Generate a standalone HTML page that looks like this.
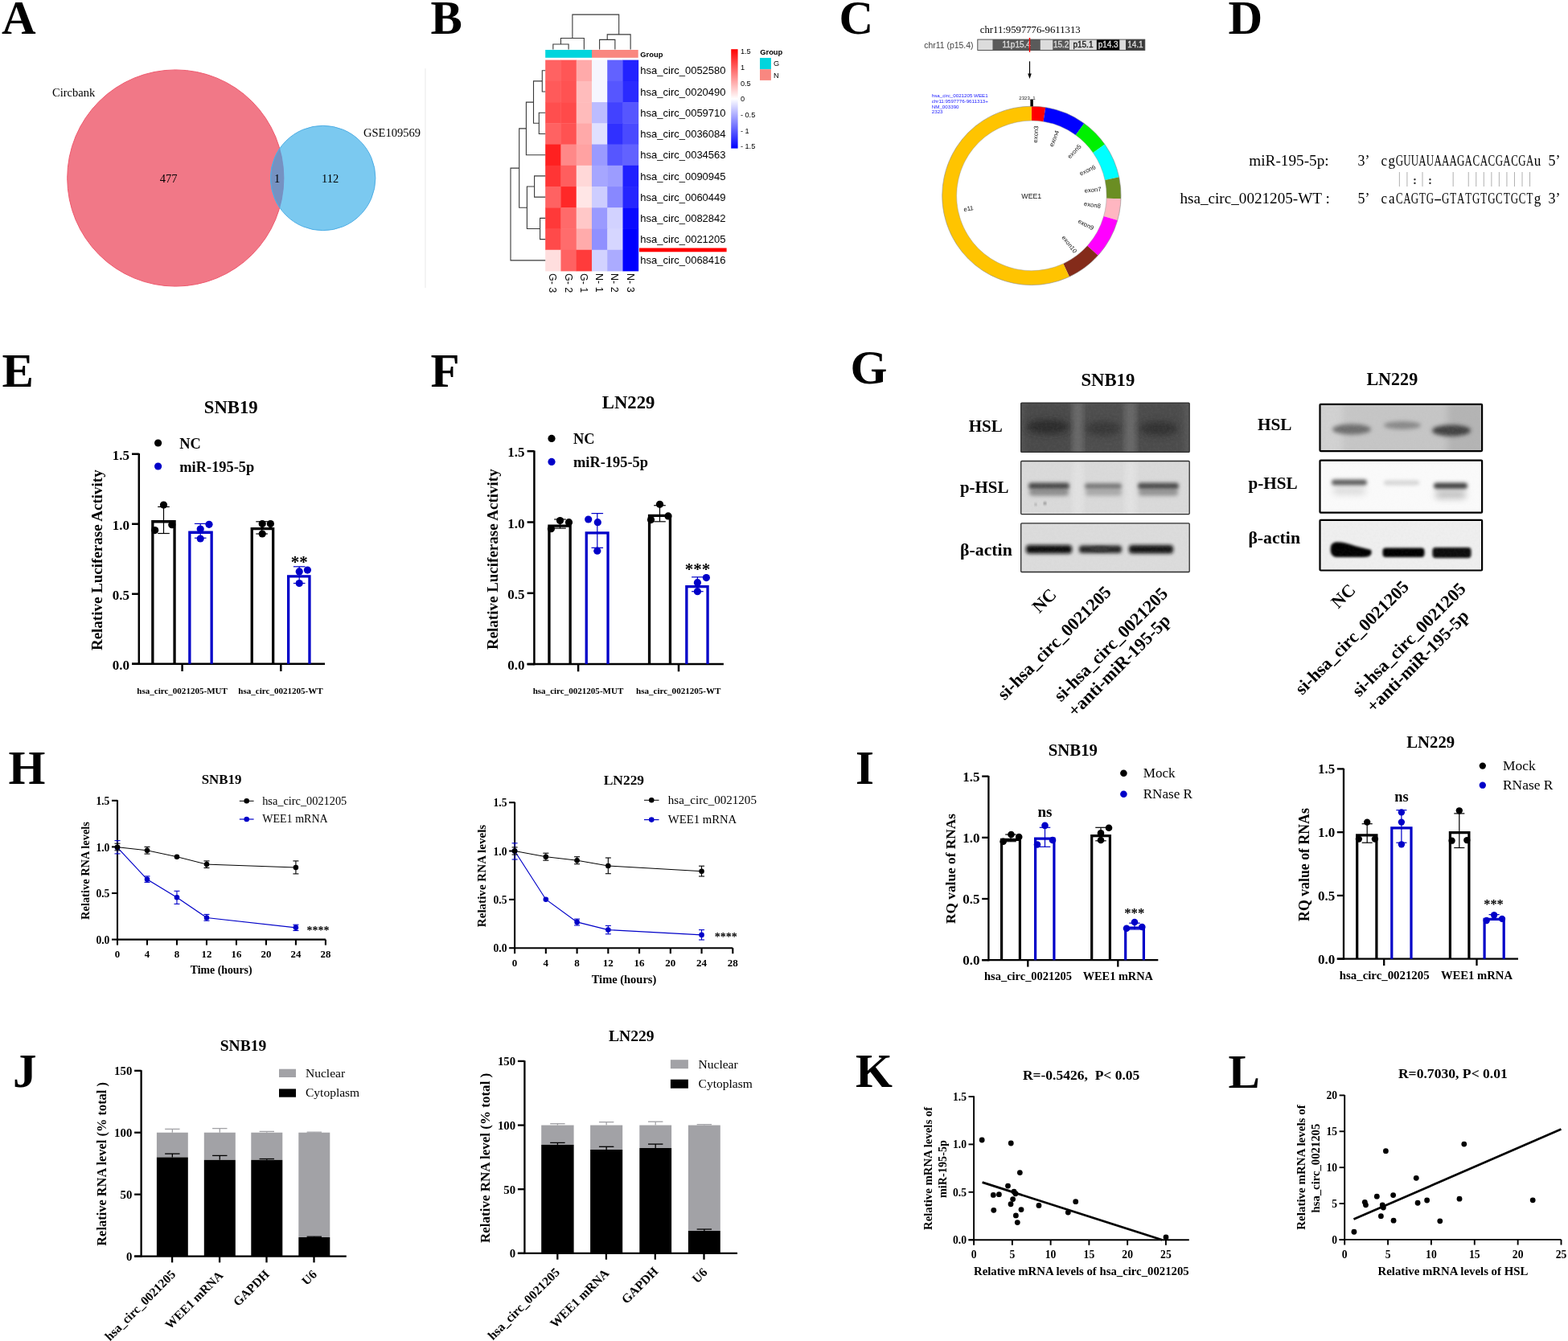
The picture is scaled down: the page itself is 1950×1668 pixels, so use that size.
<!DOCTYPE html>
<html><head><meta charset="utf-8"><title>Figure</title><style>
html,body{margin:0;padding:0;background:#fff;overflow:hidden;}
svg{display:block;}
.s{font-family:"Liberation Serif",serif;}
.sb{font-family:"Liberation Serif",serif;font-weight:bold;}
.h{font-family:"Liberation Sans",sans-serif;}
.hb{font-family:"Liberation Sans",sans-serif;font-weight:bold;}
</style></head><body>
<svg width="1950" height="1668" viewBox="0 0 1950 1668">
<defs><clipPath id="cpA"><circle cx="218.3" cy="221.5" r="134.6"/></clipPath>
<clipPath id="cpB"><circle cx="401.7" cy="221.5" r="65.2"/></clipPath>
<linearGradient id="gcb" x1="0" y1="0" x2="0" y2="1"><stop offset="0" stop-color="#FF0000"/><stop offset="0.5" stop-color="#FFFFFF"/><stop offset="1" stop-color="#0000FF"/></linearGradient>
<filter id="b15" x="-30%" y="-80%" width="160%" height="260%"><feGaussianBlur stdDeviation="1.5"/></filter>
<filter id="b2" x="-30%" y="-80%" width="160%" height="260%"><feGaussianBlur stdDeviation="2"/></filter>
<filter id="b25" x="-30%" y="-80%" width="160%" height="260%"><feGaussianBlur stdDeviation="2.5"/></filter>
<filter id="b4" x="-30%" y="-80%" width="160%" height="260%"><feGaussianBlur stdDeviation="4"/></filter>
<filter id="nz" x="0" y="0" width="100%" height="100%"><feTurbulence type="fractalNoise" baseFrequency="0.35" numOctaves="2" seed="3"/><feColorMatrix type="matrix" values="0 0 0 0 0.5  0 0 0 0 0.5  0 0 0 0 0.5  0 0 0 0.9 -0.3"/></filter>
<clipPath id="c8"><rect x="1269.7" y="501.1" width="209.5" height="61.3"/></clipPath>
<clipPath id="c9"><rect x="1269.7" y="573.5" width="209.5" height="66.1"/></clipPath>
<clipPath id="c10"><rect x="1269.7" y="650.8" width="209.5" height="60.7"/></clipPath>
<clipPath id="c11"><rect x="1641.5" y="502.8" width="201.6" height="58.3"/></clipPath>
<clipPath id="c12"><rect x="1641.5" y="572.6" width="201.6" height="65.1"/></clipPath>
<clipPath id="c13"><rect x="1641.5" y="646.8" width="201.6" height="62.7"/></clipPath></defs>
<rect width="1950" height="1668" fill="#fff"/>
<text class="sb" x="2" y="42" font-size="59">A</text>
<text class="sb" x="535.5" y="41.5" font-size="59">B</text>
<text class="sb" x="1043.5" y="41.5" font-size="59">C</text>
<text class="sb" x="1527.5" y="41.5" font-size="59">D</text>
<text class="sb" x="2.5" y="480.7" font-size="59">E</text>
<text class="sb" x="535.5" y="480.7" font-size="59">F</text>
<text class="sb" x="1057.5" y="477.3" font-size="59">G</text>
<text class="sb" x="10.5" y="974.6" font-size="59">H</text>
<text class="sb" x="1064" y="975" font-size="59">I</text>
<text class="sb" x="16" y="1351.5" font-size="59">J</text>
<text class="sb" x="1064" y="1352" font-size="59">K</text>
<text class="sb" x="1527.5" y="1352.7" font-size="59">L</text>
<circle cx="218.3" cy="221.5" r="134.6" fill="#F17887" stroke="#EE5A6E" stroke-width="1"/>
<circle cx="401.7" cy="221.5" r="65.2" fill="#7BC9F0" stroke="#4FAEE5" stroke-width="1"/>
<circle cx="401.7" cy="221.5" r="65.2" fill="#7592C2" clip-path="url(#cpA)"/>
<circle cx="218.3" cy="221.5" r="134.6" fill="none" stroke="#7A88BE" stroke-width="0.8" clip-path="url(#cpB)"/>
<circle cx="401.7" cy="221.5" r="65.2" fill="none" stroke="#4FAEE5" stroke-width="1" clip-path="url(#cpA)"/>
<text class="s" x="65" y="119.6" font-size="14.5">Circbank</text>
<text class="s" x="452" y="169.5" font-size="14.5">GSE109569</text>
<text class="s" x="209.6" y="226.5" font-size="14.5" text-anchor="middle">477</text>
<text class="s" x="344.6" y="226.5" font-size="14.5" text-anchor="middle">1</text>
<text class="s" x="410.7" y="226.5" font-size="14.5" text-anchor="middle">112</text>
<line x1="529" y1="85.2" x2="529" y2="358" stroke="#F1F1F1" stroke-width="1.6"/>
<rect x="678.2" y="74.6" width="19.66" height="26.64" fill="#FF6262"/>
<rect x="697.46" y="74.6" width="19.66" height="26.64" fill="#FF5656"/>
<rect x="716.72" y="74.6" width="19.66" height="26.64" fill="#FFAAAA"/>
<rect x="735.98" y="74.6" width="19.66" height="26.64" fill="#F6F6FF"/>
<rect x="755.24" y="74.6" width="19.66" height="26.64" fill="#6262FF"/>
<rect x="774.5" y="74.6" width="19.66" height="26.64" fill="#2222FF"/>
<rect x="678.2" y="100.84" width="19.66" height="26.64" fill="#FF5A5A"/>
<rect x="697.46" y="100.84" width="19.66" height="26.64" fill="#FF5252"/>
<rect x="716.72" y="100.84" width="19.66" height="26.64" fill="#FFBCBC"/>
<rect x="735.98" y="100.84" width="19.66" height="26.64" fill="#F6F6FF"/>
<rect x="755.24" y="100.84" width="19.66" height="26.64" fill="#5656FF"/>
<rect x="774.5" y="100.84" width="19.66" height="26.64" fill="#2A2AFF"/>
<rect x="678.2" y="127.08" width="19.66" height="26.64" fill="#FF4E4E"/>
<rect x="697.46" y="127.08" width="19.66" height="26.64" fill="#FF4A4A"/>
<rect x="716.72" y="127.08" width="19.66" height="26.64" fill="#FFBBBB"/>
<rect x="735.98" y="127.08" width="19.66" height="26.64" fill="#BCBCFF"/>
<rect x="755.24" y="127.08" width="19.66" height="26.64" fill="#4242FF"/>
<rect x="774.5" y="127.08" width="19.66" height="26.64" fill="#5656FF"/>
<rect x="678.2" y="153.32" width="19.66" height="26.64" fill="#FF6262"/>
<rect x="697.46" y="153.32" width="19.66" height="26.64" fill="#FF5252"/>
<rect x="716.72" y="153.32" width="19.66" height="26.64" fill="#FFA9A9"/>
<rect x="735.98" y="153.32" width="19.66" height="26.64" fill="#E0E0FF"/>
<rect x="755.24" y="153.32" width="19.66" height="26.64" fill="#3030FF"/>
<rect x="774.5" y="153.32" width="19.66" height="26.64" fill="#4A4AFF"/>
<rect x="678.2" y="179.56" width="19.66" height="26.64" fill="#FF2020"/>
<rect x="697.46" y="179.56" width="19.66" height="26.64" fill="#FF8888"/>
<rect x="716.72" y="179.56" width="19.66" height="26.64" fill="#FFA2A2"/>
<rect x="735.98" y="179.56" width="19.66" height="26.64" fill="#9A9AFF"/>
<rect x="755.24" y="179.56" width="19.66" height="26.64" fill="#5656FF"/>
<rect x="774.5" y="179.56" width="19.66" height="26.64" fill="#6262FF"/>
<rect x="678.2" y="205.8" width="19.66" height="26.64" fill="#FF3535"/>
<rect x="697.46" y="205.8" width="19.66" height="26.64" fill="#FF5E5E"/>
<rect x="716.72" y="205.8" width="19.66" height="26.64" fill="#FFD8D8"/>
<rect x="735.98" y="205.8" width="19.66" height="26.64" fill="#A6A6FF"/>
<rect x="755.24" y="205.8" width="19.66" height="26.64" fill="#9C9CFF"/>
<rect x="774.5" y="205.8" width="19.66" height="26.64" fill="#2020FF"/>
<rect x="678.2" y="232.04" width="19.66" height="26.64" fill="#FF6262"/>
<rect x="697.46" y="232.04" width="19.66" height="26.64" fill="#FF2828"/>
<rect x="716.72" y="232.04" width="19.66" height="26.64" fill="#FFE6E6"/>
<rect x="735.98" y="232.04" width="19.66" height="26.64" fill="#CDCDFF"/>
<rect x="755.24" y="232.04" width="19.66" height="26.64" fill="#8888FF"/>
<rect x="774.5" y="232.04" width="19.66" height="26.64" fill="#2626FF"/>
<rect x="678.2" y="258.28" width="19.66" height="26.64" fill="#FF3939"/>
<rect x="697.46" y="258.28" width="19.66" height="26.64" fill="#FF6A6A"/>
<rect x="716.72" y="258.28" width="19.66" height="26.64" fill="#FFC8C8"/>
<rect x="735.98" y="258.28" width="19.66" height="26.64" fill="#9A9AFF"/>
<rect x="755.24" y="258.28" width="19.66" height="26.64" fill="#D2D2FF"/>
<rect x="774.5" y="258.28" width="19.66" height="26.64" fill="#0A0AFF"/>
<rect x="678.2" y="284.52" width="19.66" height="26.64" fill="#FF4A4A"/>
<rect x="697.46" y="284.52" width="19.66" height="26.64" fill="#FF6C6C"/>
<rect x="716.72" y="284.52" width="19.66" height="26.64" fill="#FFABAB"/>
<rect x="735.98" y="284.52" width="19.66" height="26.64" fill="#9090FF"/>
<rect x="755.24" y="284.52" width="19.66" height="26.64" fill="#D6D6FF"/>
<rect x="774.5" y="284.52" width="19.66" height="26.64" fill="#0000FF"/>
<rect x="678.2" y="310.76" width="19.66" height="26.64" fill="#FFDEDE"/>
<rect x="697.46" y="310.76" width="19.66" height="26.64" fill="#FF6262"/>
<rect x="716.72" y="310.76" width="19.66" height="26.64" fill="#FF3B3B"/>
<rect x="735.98" y="310.76" width="19.66" height="26.64" fill="#D2D2FF"/>
<rect x="755.24" y="310.76" width="19.66" height="26.64" fill="#ABABFF"/>
<rect x="774.5" y="310.76" width="19.66" height="26.64" fill="#0000FF"/>
<rect x="678.2" y="62" width="57.8" height="9.8" fill="#00D5DD"/>
<rect x="736" y="62" width="57.7" height="9.8" fill="#F98780"/>
<text class="hb" x="796.3" y="70.6" font-size="9.4">Group</text>
<text class="h" x="796.3" y="92.32" font-size="13">hsa_circ_0052580</text>
<text class="h" x="796.3" y="118.56" font-size="13">hsa_circ_0020490</text>
<text class="h" x="796.3" y="144.8" font-size="13">hsa_circ_0059710</text>
<text class="h" x="796.3" y="171.04" font-size="13">hsa_circ_0036084</text>
<text class="h" x="796.3" y="197.28" font-size="13">hsa_circ_0034563</text>
<text class="h" x="796.3" y="223.52" font-size="13">hsa_circ_0090945</text>
<text class="h" x="796.3" y="249.76" font-size="13">hsa_circ_0060449</text>
<text class="h" x="796.3" y="276" font-size="13">hsa_circ_0082842</text>
<text class="h" x="796.3" y="302.24" font-size="13">hsa_circ_0021205</text>
<text class="h" x="796.3" y="328.48" font-size="13">hsa_circ_0068416</text>
<rect x="795" y="308.5" width="108.6" height="4.8" fill="#FF0000"/>
<text class="h" x="683.43" y="340" font-size="12.5" transform="rotate(90 683.43 340)">G- 3</text>
<text class="h" x="702.69" y="340" font-size="12.5" transform="rotate(90 702.69 340)">G- 2</text>
<text class="h" x="721.95" y="340" font-size="12.5" transform="rotate(90 721.95 340)">G- 1</text>
<text class="h" x="741.21" y="340" font-size="12.5" transform="rotate(90 741.21 340)">N- 1</text>
<text class="h" x="760.47" y="340" font-size="12.5" transform="rotate(90 760.47 340)">N- 2</text>
<text class="h" x="779.73" y="340" font-size="12.5" transform="rotate(90 779.73 340)">N- 3</text>
<polyline points="687.83,61.5 687.83,55 707.09,55 707.09,61.5" fill="none" stroke="#3A3A3A" stroke-width="1.1"/>
<polyline points="697.46,55 697.46,47.5 726.35,47.5 726.35,61.5" fill="none" stroke="#3A3A3A" stroke-width="1.1"/>
<polyline points="745.61,61.5 745.61,49.4 764.87,49.4 764.87,61.5" fill="none" stroke="#3A3A3A" stroke-width="1.1"/>
<polyline points="755.24,49.4 755.24,42.9 784.13,42.9 784.13,61.5" fill="none" stroke="#3A3A3A" stroke-width="1.1"/>
<polyline points="711.9,47.5 711.9,18.1 769.69,18.1 769.69,42.9" fill="none" stroke="#3A3A3A" stroke-width="1.1"/>
<polyline points="678.2,87.72 674.3,87.72 674.3,113.96 678.2,113.96" fill="none" stroke="#3A3A3A" stroke-width="1.1"/>
<polyline points="678.2,140.2 670.3,140.2 670.3,166.44 678.2,166.44" fill="none" stroke="#3A3A3A" stroke-width="1.1"/>
<polyline points="674.3,100.84 663.5,100.84 663.5,153.32 670.3,153.32" fill="none" stroke="#3A3A3A" stroke-width="1.1"/>
<polyline points="663.5,127.08 654.4,127.08 654.4,192.68 678.2,192.68" fill="none" stroke="#3A3A3A" stroke-width="1.1"/>
<polyline points="678.2,218.92 664.6,218.92 664.6,245.16 678.2,245.16" fill="none" stroke="#3A3A3A" stroke-width="1.1"/>
<polyline points="678.2,271.4 671.6,271.4 671.6,297.64 678.2,297.64" fill="none" stroke="#3A3A3A" stroke-width="1.1"/>
<polyline points="664.6,232.04 655.4,232.04 655.4,284.52 671.6,284.52" fill="none" stroke="#3A3A3A" stroke-width="1.1"/>
<polyline points="654.4,159.88 645.7,159.88 645.7,258.28 655.4,258.28" fill="none" stroke="#3A3A3A" stroke-width="1.1"/>
<polyline points="645.7,209.08 635,209.08 635,323.88 678.2,323.88" fill="none" stroke="#3A3A3A" stroke-width="1.1"/>
<rect x="909.2" y="61.2" width="8.4" height="123.4" fill="url(#gcb)"/>
<text class="h" x="920.9" y="66.9" font-size="9.2">1.5</text>
<text class="h" x="920.9" y="86.7" font-size="9.2">1</text>
<text class="h" x="920.9" y="106.7" font-size="9.2">0.5</text>
<text class="h" x="920.9" y="126.4" font-size="9.2">0</text>
<text class="h" x="920.9" y="146.4" font-size="9.2">- 0.5</text>
<text class="h" x="920.9" y="165.8" font-size="9.2">- 1</text>
<text class="h" x="920.9" y="185.3" font-size="9.2">- 1.5</text>
<text class="hb" x="945.2" y="68.4" font-size="9.4">Group</text>
<rect x="945" y="72" width="13.9" height="14.2" fill="#00D5DD"/>
<rect x="945" y="86.2" width="13.9" height="13.7" fill="#F98780"/>
<text class="h" x="962" y="81.9" font-size="9.2">G</text>
<text class="h" x="962" y="96.6" font-size="9.2">N</text>
<text class="s" x="1218.8" y="41.2" font-size="12.73">chr11:9597776-9611313</text>
<text class="h" x="1149.2" y="59.5" font-size="10.45" fill="#444">chr11 (p15.4)</text>
<rect x="1215.8" y="49.1" width="18.6" height="13.4" fill="#DCDCDC"/>
<rect x="1234.4" y="49.1" width="59.5" height="13.4" fill="#5A5A5A"/>
<rect x="1293.9" y="49.1" width="15.3" height="13.4" fill="#DCDCDC"/>
<rect x="1309.2" y="49.1" width="20.9" height="13.4" fill="#5A5A5A"/>
<rect x="1330.1" y="49.1" width="33.7" height="13.4" fill="#DCDCDC"/>
<rect x="1363.8" y="49.1" width="28.7" height="13.4" fill="#050505"/>
<rect x="1392.5" y="49.1" width="7.5" height="13.4" fill="#DCDCDC"/>
<rect x="1400" y="49.1" width="23.8" height="13.4" fill="#3A3A3A"/>
<rect x="1215.8" y="49.1" width="208" height="13.4" fill="none" stroke="#444" stroke-width="0.9"/>
<text class="h" x="1264.15" y="59.4" font-size="10" text-anchor="middle" fill="#DADADA" stroke="#DADADA" stroke-width="0.35">11p15.4</text>
<text class="h" x="1319.65" y="59.4" font-size="10" text-anchor="middle" fill="#DADADA" stroke="#DADADA" stroke-width="0.35">15.2</text>
<text class="h" x="1346.95" y="59.4" font-size="10" text-anchor="middle" fill="#1a1a1a" stroke="#1a1a1a" stroke-width="0.35">p15.1</text>
<text class="h" x="1378.15" y="59.4" font-size="10" text-anchor="middle" fill="#DADADA" stroke="#DADADA" stroke-width="0.35">p14.3</text>
<text class="h" x="1411.9" y="59.4" font-size="10" text-anchor="middle" fill="#DADADA" stroke="#DADADA" stroke-width="0.35">14.1</text>
<line x1="1280.5" y1="47" x2="1280.5" y2="64.9" stroke="#FF0000" stroke-width="1.4"/>
<line x1="1280.5" y1="76.3" x2="1280.5" y2="93" stroke="#000" stroke-width="1.2"/>
<path d="M1278.2,91.5 L1282.8,91.5 L1280.5,98 Z" fill="#000"/>
<path d="M1282.9,132.2 A111.2,111.2 0 0 1 1300.3,133.57 L1297.5,151.25 A93.3,93.3 0 0 0 1282.9,150.1 Z" fill="#FF0000"/>
<path d="M1300.3,133.57 A111.2,111.2 0 0 1 1348.26,153.44 L1337.74,167.92 A93.3,93.3 0 0 0 1297.5,151.25 Z" fill="#0000FF"/>
<path d="M1348.26,153.44 A111.2,111.2 0 0 1 1373.99,179.62 L1359.33,189.89 A93.3,93.3 0 0 0 1337.74,167.92 Z" fill="#00F000"/>
<path d="M1373.99,179.62 A111.2,111.2 0 0 1 1391.67,220.28 L1374.16,224 A93.3,93.3 0 0 0 1359.33,189.89 Z" fill="#00FFFF"/>
<path d="M1391.67,220.28 A111.2,111.2 0 0 1 1394.03,247.28 L1376.14,246.66 A93.3,93.3 0 0 0 1374.16,224 Z" fill="#6B8E23"/>
<path d="M1394.03,247.28 A111.2,111.2 0 0 1 1389.79,274.05 L1372.59,269.12 A93.3,93.3 0 0 0 1376.14,246.66 Z" fill="#FFB6C1"/>
<path d="M1389.79,274.05 A111.2,111.2 0 0 1 1365.54,317.81 L1352.24,305.83 A93.3,93.3 0 0 0 1372.59,269.12 Z" fill="#FF00FF"/>
<path d="M1365.54,317.81 A111.2,111.2 0 0 1 1329.9,344.18 L1322.33,327.96 A93.3,93.3 0 0 0 1352.24,305.83 Z" fill="#842B1A"/>
<path d="M1329.9,344.18 A111.2,111.2 0 1 1 1282.9,132.2 L1282.9,150.1 A93.3,93.3 0 1 0 1322.33,327.96 Z" fill="#FFC400"/>
<circle cx="1282.9" cy="243.4" r="111.2" fill="none" stroke="#8A8A8A" stroke-width="0.6"/>
<circle cx="1282.9" cy="243.4" r="93.3" fill="none" stroke="#9A9A9A" stroke-width="0.5"/>
<text class="h" x="1290.66" y="167.25" font-size="7.7" text-anchor="middle" fill="#111" transform="rotate(-86.2 1290.66 167.25)">exon3</text>
<text class="h" x="1313.45" y="173.21" font-size="7.7" text-anchor="middle" fill="#111" transform="rotate(-68.5 1313.45 173.21)">exon4</text>
<text class="h" x="1337.98" y="190.25" font-size="7.7" text-anchor="middle" fill="#111" transform="rotate(-46 1337.98 190.25)">exon5</text>
<text class="h" x="1353.63" y="214.13" font-size="7.7" text-anchor="middle" fill="#111" transform="rotate(-24.5 1353.63 214.13)">exon6</text>
<text class="h" x="1359.31" y="238.76" font-size="7.7" text-anchor="middle" fill="#111" transform="rotate(-5.5 1359.31 238.76)">exon7</text>
<text class="h" x="1358.16" y="257.38" font-size="7.7" text-anchor="middle" fill="#111" transform="rotate(8.5 1358.16 257.38)">exon8</text>
<text class="h" x="1349.18" y="281.7" font-size="7.7" text-anchor="middle" fill="#111" transform="rotate(28 1349.18 281.7)">exon9</text>
<text class="h" x="1327.87" y="305.35" font-size="7.7" text-anchor="middle" fill="#111" transform="rotate(52 1327.87 305.35)">exon10</text>
<text class="h" x="1205.04" y="262" font-size="7.7" text-anchor="middle" fill="#111" transform="rotate(-11.5 1205.04 262)">e11</text>
<text class="h" x="1282.8" y="246.8" font-size="8.8" text-anchor="middle" fill="#111">WEE1</text>
<rect x="1281.4" y="123.5" width="3.4" height="8.8" fill="#000"/>
<text class="h" x="1267.3" y="123.5" font-size="6.1" fill="#222">2323_1</text>
<text class="h" x="1158.8" y="121.2" font-size="6.2" fill="#2020FF">hsa_circ_0021205 WEE1</text>
<text class="h" x="1158.8" y="127.85" font-size="6.2" fill="#2020FF">chr11:9597776-9611313+</text>
<text class="h" x="1158.8" y="134.5" font-size="6.2" fill="#2020FF">NM_003390</text>
<text class="h" x="1158.8" y="141.15" font-size="6.2" fill="#2020FF">2323</text>
<text class="s" x="1652.6" y="206.4" font-size="18" text-anchor="end" textLength="99.3" lengthAdjust="spacingAndGlyphs">miR-195-5p:</text>
<text class="s" x="1688.5" y="206.4" font-size="18">3’</text>
<text class="s" x="1925.6" y="206.4" font-size="18">5’</text>
<text class="s" x="1653.8" y="252.6" font-size="18" text-anchor="end" textLength="186.4" lengthAdjust="spacingAndGlyphs">hsa_circ_0021205-WT :</text>
<text class="s" x="1688.5" y="252.6" font-size="18">5’</text>
<text class="s" x="1925.6" y="252.6" font-size="18">3’</text>
<g><text class="s" font-size="18" text-anchor="middle" transform="translate(1721.3 206.4) scale(0.95 1)">c</text><text class="s" font-size="18" text-anchor="middle" transform="translate(1730.84 206.4) scale(0.95 1)">g</text><text class="s" font-size="18" text-anchor="middle" transform="translate(1740.38 206.4) scale(0.72 1)">G</text><text class="s" font-size="18" text-anchor="middle" transform="translate(1749.92 206.4) scale(0.72 1)">U</text><text class="s" font-size="18" text-anchor="middle" transform="translate(1759.46 206.4) scale(0.72 1)">U</text><text class="s" font-size="18" text-anchor="middle" transform="translate(1769 206.4) scale(0.72 1)">A</text><text class="s" font-size="18" text-anchor="middle" transform="translate(1778.54 206.4) scale(0.72 1)">U</text><text class="s" font-size="18" text-anchor="middle" transform="translate(1788.08 206.4) scale(0.72 1)">A</text><text class="s" font-size="18" text-anchor="middle" transform="translate(1797.62 206.4) scale(0.72 1)">A</text><text class="s" font-size="18" text-anchor="middle" transform="translate(1807.16 206.4) scale(0.72 1)">A</text><text class="s" font-size="18" text-anchor="middle" transform="translate(1816.7 206.4) scale(0.72 1)">G</text><text class="s" font-size="18" text-anchor="middle" transform="translate(1826.24 206.4) scale(0.72 1)">A</text><text class="s" font-size="18" text-anchor="middle" transform="translate(1835.78 206.4) scale(0.72 1)">C</text><text class="s" font-size="18" text-anchor="middle" transform="translate(1845.32 206.4) scale(0.72 1)">A</text><text class="s" font-size="18" text-anchor="middle" transform="translate(1854.86 206.4) scale(0.72 1)">C</text><text class="s" font-size="18" text-anchor="middle" transform="translate(1864.4 206.4) scale(0.72 1)">G</text><text class="s" font-size="18" text-anchor="middle" transform="translate(1873.94 206.4) scale(0.72 1)">A</text><text class="s" font-size="18" text-anchor="middle" transform="translate(1883.48 206.4) scale(0.72 1)">C</text><text class="s" font-size="18" text-anchor="middle" transform="translate(1893.02 206.4) scale(0.72 1)">G</text><text class="s" font-size="18" text-anchor="middle" transform="translate(1902.56 206.4) scale(0.72 1)">A</text><text class="s" font-size="18" text-anchor="middle" transform="translate(1912.1 206.4) scale(0.95 1)">u</text></g>
<g><text class="s" font-size="18" text-anchor="middle" transform="translate(1721.3 252.6) scale(0.95 1)">c</text><text class="s" font-size="18" text-anchor="middle" transform="translate(1730.84 252.6) scale(0.95 1)">a</text><text class="s" font-size="18" text-anchor="middle" transform="translate(1740.38 252.6) scale(0.72 1)">C</text><text class="s" font-size="18" text-anchor="middle" transform="translate(1749.92 252.6) scale(0.72 1)">A</text><text class="s" font-size="18" text-anchor="middle" transform="translate(1759.46 252.6) scale(0.72 1)">G</text><text class="s" font-size="18" text-anchor="middle" transform="translate(1769 252.6) scale(0.72 1)">T</text><text class="s" font-size="18" text-anchor="middle" transform="translate(1778.54 252.6) scale(0.72 1)">G</text><text class="s" font-size="18" text-anchor="middle" transform="translate(1788.08 252.6) scale(1.7 1)">-</text><text class="s" font-size="18" text-anchor="middle" transform="translate(1797.62 252.6) scale(0.72 1)">G</text><text class="s" font-size="18" text-anchor="middle" transform="translate(1807.16 252.6) scale(0.72 1)">T</text><text class="s" font-size="18" text-anchor="middle" transform="translate(1816.7 252.6) scale(0.72 1)">A</text><text class="s" font-size="18" text-anchor="middle" transform="translate(1826.24 252.6) scale(0.72 1)">T</text><text class="s" font-size="18" text-anchor="middle" transform="translate(1835.78 252.6) scale(0.72 1)">G</text><text class="s" font-size="18" text-anchor="middle" transform="translate(1845.32 252.6) scale(0.72 1)">T</text><text class="s" font-size="18" text-anchor="middle" transform="translate(1854.86 252.6) scale(0.72 1)">G</text><text class="s" font-size="18" text-anchor="middle" transform="translate(1864.4 252.6) scale(0.72 1)">C</text><text class="s" font-size="18" text-anchor="middle" transform="translate(1873.94 252.6) scale(0.72 1)">T</text><text class="s" font-size="18" text-anchor="middle" transform="translate(1883.48 252.6) scale(0.72 1)">G</text><text class="s" font-size="18" text-anchor="middle" transform="translate(1893.02 252.6) scale(0.72 1)">C</text><text class="s" font-size="18" text-anchor="middle" transform="translate(1902.56 252.6) scale(0.72 1)">T</text><text class="s" font-size="18" text-anchor="middle" transform="translate(1912.1 252.6) scale(0.95 1)">g</text></g>
<line x1="1740.38" y1="214" x2="1740.38" y2="232" stroke="#A8A8A8" stroke-width="0.9"/>
<line x1="1749.92" y1="214" x2="1749.92" y2="232" stroke="#A8A8A8" stroke-width="0.9"/>
<line x1="1769" y1="214" x2="1769" y2="232" stroke="#A8A8A8" stroke-width="0.9"/>
<line x1="1807.16" y1="214" x2="1807.16" y2="232" stroke="#A8A8A8" stroke-width="0.9"/>
<line x1="1826.24" y1="214" x2="1826.24" y2="232" stroke="#A8A8A8" stroke-width="0.9"/>
<line x1="1835.78" y1="214" x2="1835.78" y2="232" stroke="#A8A8A8" stroke-width="0.9"/>
<line x1="1845.32" y1="214" x2="1845.32" y2="232" stroke="#A8A8A8" stroke-width="0.9"/>
<line x1="1854.86" y1="214" x2="1854.86" y2="232" stroke="#A8A8A8" stroke-width="0.9"/>
<line x1="1864.4" y1="214" x2="1864.4" y2="232" stroke="#A8A8A8" stroke-width="0.9"/>
<line x1="1873.94" y1="214" x2="1873.94" y2="232" stroke="#A8A8A8" stroke-width="0.9"/>
<line x1="1883.48" y1="214" x2="1883.48" y2="232" stroke="#A8A8A8" stroke-width="0.9"/>
<line x1="1893.02" y1="214" x2="1893.02" y2="232" stroke="#A8A8A8" stroke-width="0.9"/>
<line x1="1902.56" y1="214" x2="1902.56" y2="232" stroke="#A8A8A8" stroke-width="0.9"/>
<text class="sb" x="1759.46" y="229" font-size="15" text-anchor="middle" fill="#333">:</text>
<text class="sb" x="1778.54" y="229" font-size="15" text-anchor="middle" fill="#333">:</text>
<line x1="172.8" y1="563.95" x2="172.8" y2="827.05" stroke="#000" stroke-width="2.5"/>
<line x1="164" y1="825.8" x2="172.8" y2="825.8" stroke="#000" stroke-width="2.5"/>
<text class="sb" x="161" y="832.8" font-size="17" text-anchor="end">0.0</text>
<line x1="164" y1="738.77" x2="172.8" y2="738.77" stroke="#000" stroke-width="2.5"/>
<text class="sb" x="161" y="745.77" font-size="17" text-anchor="end">0.5</text>
<line x1="164" y1="651.73" x2="172.8" y2="651.73" stroke="#000" stroke-width="2.5"/>
<text class="sb" x="161" y="658.73" font-size="17" text-anchor="end">1.0</text>
<line x1="164" y1="564.7" x2="172.8" y2="564.7" stroke="#000" stroke-width="2.5"/>
<text class="sb" x="161" y="571.7" font-size="17" text-anchor="end">1.5</text>
<line x1="164" y1="825.8" x2="404" y2="825.8" stroke="#000" stroke-width="2.5"/>
<line x1="226.6" y1="825.8" x2="226.6" y2="835" stroke="#000" stroke-width="2.5"/>
<line x1="349.3" y1="825.8" x2="349.3" y2="835" stroke="#000" stroke-width="2.5"/>
<path d="M189.85,825.8 L189.85,648.75 L217.05,648.75 L217.05,825.8" fill="none" stroke="#000" stroke-width="3.3" stroke-linejoin="miter"/>
<path d="M235.85,825.8 L235.85,662.25 L263.15,662.25 L263.15,825.8" fill="none" stroke="#0000C8" stroke-width="3.3" stroke-linejoin="miter"/>
<path d="M313.25,825.8 L313.25,657.65 L339.65,657.65 L339.65,825.8" fill="none" stroke="#000" stroke-width="3.3" stroke-linejoin="miter"/>
<path d="M358.65,825.8 L358.65,716.85 L384.95,716.85 L384.95,825.8" fill="none" stroke="#0000C8" stroke-width="3.3" stroke-linejoin="miter"/>
<line x1="203.5" y1="630.4" x2="203.5" y2="663.5" stroke="#000" stroke-width="1.2"/>
<line x1="196.2" y1="630.4" x2="210.8" y2="630.4" stroke="#000" stroke-width="1.2"/>
<line x1="196.2" y1="663.5" x2="210.8" y2="663.5" stroke="#000" stroke-width="1.2"/>
<line x1="249.2" y1="651.4" x2="249.2" y2="669.2" stroke="#0000C8" stroke-width="1.2"/>
<line x1="241.9" y1="651.4" x2="256.5" y2="651.4" stroke="#0000C8" stroke-width="1.2"/>
<line x1="241.9" y1="669.2" x2="256.5" y2="669.2" stroke="#0000C8" stroke-width="1.2"/>
<line x1="325.6" y1="648.8" x2="325.6" y2="664" stroke="#000" stroke-width="1.2"/>
<line x1="318.3" y1="648.8" x2="332.9" y2="648.8" stroke="#000" stroke-width="1.2"/>
<line x1="318.3" y1="664" x2="332.9" y2="664" stroke="#000" stroke-width="1.2"/>
<line x1="372.2" y1="704.8" x2="372.2" y2="725.5" stroke="#0000C8" stroke-width="1.2"/>
<line x1="364.9" y1="704.8" x2="379.5" y2="704.8" stroke="#0000C8" stroke-width="1.2"/>
<line x1="364.9" y1="725.5" x2="379.5" y2="725.5" stroke="#0000C8" stroke-width="1.2"/>
<circle cx="203.5" cy="628.1" r="4.6" fill="#000"/>
<circle cx="192.7" cy="659.6" r="4.6" fill="#000"/>
<circle cx="213.8" cy="652.7" r="4.6" fill="#000"/>
<circle cx="260" cy="652.3" r="4.6" fill="#0000C8"/>
<circle cx="249.2" cy="658.1" r="4.6" fill="#0000C8"/>
<circle cx="249.2" cy="670" r="4.6" fill="#0000C8"/>
<circle cx="326.2" cy="651.6" r="4.6" fill="#000"/>
<circle cx="336.4" cy="651.6" r="4.6" fill="#000"/>
<circle cx="326.2" cy="664" r="4.6" fill="#000"/>
<circle cx="372.2" cy="710.9" r="4.6" fill="#0000C8"/>
<circle cx="382.4" cy="709.1" r="4.6" fill="#0000C8"/>
<circle cx="372.2" cy="725.5" r="4.6" fill="#0000C8"/>
<text class="sb" x="287.2" y="513.7" font-size="22.7" text-anchor="middle">SNB19</text>
<circle cx="196.6" cy="551" r="4.6" fill="#000"/>
<circle cx="196.6" cy="580" r="4.6" fill="#0000C8"/>
<text class="sb" x="223.3" y="558" font-size="18.4">NC</text>
<text class="sb" x="223.3" y="587" font-size="18.4">miR-195-5p</text>
<text class="sb" x="372.2" y="706" font-size="21" text-anchor="middle">**</text>
<text class="sb" x="127.5" y="696.7" font-size="19" text-anchor="middle" transform="rotate(-90 127.5 696.7)">Relative Luciferase Activity</text>
<text class="sb" x="226.6" y="862.5" font-size="11.05" text-anchor="middle">hsa_circ_0021205-MUT</text>
<text class="sb" x="349" y="862.5" font-size="11.05" text-anchor="middle">hsa_circ_0021205-WT</text>
<line x1="664.4" y1="560.45" x2="664.4" y2="827.35" stroke="#000" stroke-width="2.5"/>
<line x1="655.6" y1="826.1" x2="664.4" y2="826.1" stroke="#000" stroke-width="2.5"/>
<text class="sb" x="652.6" y="833.1" font-size="17" text-anchor="end">0.0</text>
<line x1="655.6" y1="737.8" x2="664.4" y2="737.8" stroke="#000" stroke-width="2.5"/>
<text class="sb" x="652.6" y="744.8" font-size="17" text-anchor="end">0.5</text>
<line x1="655.6" y1="649.5" x2="664.4" y2="649.5" stroke="#000" stroke-width="2.5"/>
<text class="sb" x="652.6" y="656.5" font-size="17" text-anchor="end">1.0</text>
<line x1="655.6" y1="561.2" x2="664.4" y2="561.2" stroke="#000" stroke-width="2.5"/>
<text class="sb" x="652.6" y="568.2" font-size="17" text-anchor="end">1.5</text>
<line x1="655.6" y1="826.1" x2="899.9" y2="826.1" stroke="#000" stroke-width="2.5"/>
<line x1="719.1" y1="826.1" x2="719.1" y2="835.3" stroke="#000" stroke-width="2.5"/>
<line x1="844" y1="826.1" x2="844" y2="835.3" stroke="#000" stroke-width="2.5"/>
<path d="M682.95,826.1 L682.95,654.05 L709.15,654.05 L709.15,826.1" fill="none" stroke="#000" stroke-width="3.3" stroke-linejoin="miter"/>
<path d="M729.25,826.1 L729.25,662.85 L756.05,662.85 L756.05,826.1" fill="none" stroke="#0000C8" stroke-width="3.3" stroke-linejoin="miter"/>
<path d="M807.55,826.1 L807.55,641.35 L833.45,641.35 L833.45,826.1" fill="none" stroke="#000" stroke-width="3.3" stroke-linejoin="miter"/>
<path d="M853.85,826.1 L853.85,729.65 L880.05,729.65 L880.05,826.1" fill="none" stroke="#0000C8" stroke-width="3.3" stroke-linejoin="miter"/>
<line x1="696.5" y1="646" x2="696.5" y2="657.1" stroke="#000" stroke-width="1.2"/>
<line x1="689.2" y1="646" x2="703.8" y2="646" stroke="#000" stroke-width="1.2"/>
<line x1="689.2" y1="657.1" x2="703.8" y2="657.1" stroke="#000" stroke-width="1.2"/>
<line x1="742.8" y1="638.6" x2="742.8" y2="681.4" stroke="#0000C8" stroke-width="1.2"/>
<line x1="735.5" y1="638.6" x2="750.1" y2="638.6" stroke="#0000C8" stroke-width="1.2"/>
<line x1="735.5" y1="681.4" x2="750.1" y2="681.4" stroke="#0000C8" stroke-width="1.2"/>
<line x1="820.5" y1="628.7" x2="820.5" y2="648.8" stroke="#000" stroke-width="1.2"/>
<line x1="813.2" y1="628.7" x2="827.8" y2="628.7" stroke="#000" stroke-width="1.2"/>
<line x1="813.2" y1="648.8" x2="827.8" y2="648.8" stroke="#000" stroke-width="1.2"/>
<line x1="867.4" y1="717.8" x2="867.4" y2="735.7" stroke="#0000C8" stroke-width="1.2"/>
<line x1="860.1" y1="717.8" x2="874.7" y2="717.8" stroke="#0000C8" stroke-width="1.2"/>
<line x1="860.1" y1="735.7" x2="874.7" y2="735.7" stroke="#0000C8" stroke-width="1.2"/>
<circle cx="696.5" cy="647.5" r="4.6" fill="#000"/>
<circle cx="685.4" cy="657.7" r="4.6" fill="#000"/>
<circle cx="707.5" cy="649.7" r="4.6" fill="#000"/>
<circle cx="731.7" cy="646" r="4.6" fill="#0000C8"/>
<circle cx="743.3" cy="649.7" r="4.6" fill="#0000C8"/>
<circle cx="742.8" cy="685.2" r="4.6" fill="#0000C8"/>
<circle cx="820.5" cy="627.3" r="4.6" fill="#000"/>
<circle cx="809.5" cy="646.6" r="4.6" fill="#000"/>
<circle cx="831" cy="641.9" r="4.6" fill="#000"/>
<circle cx="878.4" cy="718.6" r="4.6" fill="#0000C8"/>
<circle cx="867.4" cy="724.7" r="4.6" fill="#0000C8"/>
<circle cx="867.4" cy="735.7" r="4.6" fill="#0000C8"/>
<text class="sb" x="781.6" y="508.2" font-size="22.7" text-anchor="middle">LN229</text>
<circle cx="686" cy="545.4" r="4.6" fill="#000"/>
<circle cx="686" cy="574.4" r="4.6" fill="#0000C8"/>
<text class="sb" x="713" y="552.4" font-size="18.4">NC</text>
<text class="sb" x="713" y="581.4" font-size="18.4">miR-195-5p</text>
<text class="sb" x="867.4" y="714.5" font-size="21" text-anchor="middle">***</text>
<text class="sb" x="619" y="695.7" font-size="19" text-anchor="middle" transform="rotate(-90 619 695.7)">Relative Luciferase Activity</text>
<text class="sb" x="719" y="862.5" font-size="11.05" text-anchor="middle">hsa_circ_0021205-MUT</text>
<text class="sb" x="843.7" y="862.5" font-size="11.05" text-anchor="middle">hsa_circ_0021205-WT</text>
<line x1="146" y1="995.25" x2="146" y2="1169.65" stroke="#000" stroke-width="2.1"/>
<line x1="139" y1="1168.6" x2="146" y2="1168.6" stroke="#000" stroke-width="2.1"/>
<text class="sb" x="136.4" y="1173.7" font-size="13.6" text-anchor="end">0.0</text>
<line x1="139" y1="1111" x2="146" y2="1111" stroke="#000" stroke-width="2.1"/>
<text class="sb" x="136.4" y="1116.1" font-size="13.6" text-anchor="end">0.5</text>
<line x1="139" y1="1053.4" x2="146" y2="1053.4" stroke="#000" stroke-width="2.1"/>
<text class="sb" x="136.4" y="1058.5" font-size="13.6" text-anchor="end">1.0</text>
<line x1="139" y1="995.8" x2="146" y2="995.8" stroke="#000" stroke-width="2.1"/>
<text class="sb" x="136.4" y="1000.9" font-size="13.6" text-anchor="end">1.5</text>
<line x1="146" y1="1168.6" x2="404.9" y2="1168.6" stroke="#000" stroke-width="2.1"/>
<line x1="146" y1="1168.6" x2="146" y2="1175.6" stroke="#000" stroke-width="2.1"/>
<text class="sb" x="146" y="1190.8" font-size="12.8" text-anchor="middle">0</text>
<line x1="182.99" y1="1168.6" x2="182.99" y2="1175.6" stroke="#000" stroke-width="2.1"/>
<text class="sb" x="182.99" y="1190.8" font-size="12.8" text-anchor="middle">4</text>
<line x1="219.97" y1="1168.6" x2="219.97" y2="1175.6" stroke="#000" stroke-width="2.1"/>
<text class="sb" x="219.97" y="1190.8" font-size="12.8" text-anchor="middle">8</text>
<line x1="256.96" y1="1168.6" x2="256.96" y2="1175.6" stroke="#000" stroke-width="2.1"/>
<text class="sb" x="256.96" y="1190.8" font-size="12.8" text-anchor="middle">12</text>
<line x1="293.94" y1="1168.6" x2="293.94" y2="1175.6" stroke="#000" stroke-width="2.1"/>
<text class="sb" x="293.94" y="1190.8" font-size="12.8" text-anchor="middle">16</text>
<line x1="330.93" y1="1168.6" x2="330.93" y2="1175.6" stroke="#000" stroke-width="2.1"/>
<text class="sb" x="330.93" y="1190.8" font-size="12.8" text-anchor="middle">20</text>
<line x1="367.91" y1="1168.6" x2="367.91" y2="1175.6" stroke="#000" stroke-width="2.1"/>
<text class="sb" x="367.91" y="1190.8" font-size="12.8" text-anchor="middle">24</text>
<line x1="404.9" y1="1168.6" x2="404.9" y2="1175.6" stroke="#000" stroke-width="2.1"/>
<text class="sb" x="404.9" y="1190.8" font-size="12.8" text-anchor="middle">28</text>
<text class="sb" x="275.5" y="975.4" font-size="16.87" text-anchor="middle">SNB19</text>
<polyline points="146,1054.2 182.99,1093.8 219.97,1116.2 256.96,1141.5 367.91,1153.8" fill="none" stroke="#0000C8" stroke-width="1.2"/>
<line x1="146" y1="1045.6" x2="146" y2="1061.9" stroke="#0000C8" stroke-width="1.1"/>
<line x1="142.5" y1="1045.6" x2="149.5" y2="1045.6" stroke="#0000C8" stroke-width="1.1"/>
<line x1="142.5" y1="1061.9" x2="149.5" y2="1061.9" stroke="#0000C8" stroke-width="1.1"/>
<circle cx="146" cy="1054.2" r="3.3" fill="#0000C8"/>
<line x1="182.99" y1="1089.9" x2="182.99" y2="1097.4" stroke="#0000C8" stroke-width="1.1"/>
<line x1="179.49" y1="1089.9" x2="186.49" y2="1089.9" stroke="#0000C8" stroke-width="1.1"/>
<line x1="179.49" y1="1097.4" x2="186.49" y2="1097.4" stroke="#0000C8" stroke-width="1.1"/>
<circle cx="182.99" cy="1093.8" r="3.3" fill="#0000C8"/>
<line x1="219.97" y1="1108.3" x2="219.97" y2="1124.4" stroke="#0000C8" stroke-width="1.1"/>
<line x1="216.47" y1="1108.3" x2="223.47" y2="1108.3" stroke="#0000C8" stroke-width="1.1"/>
<line x1="216.47" y1="1124.4" x2="223.47" y2="1124.4" stroke="#0000C8" stroke-width="1.1"/>
<circle cx="219.97" cy="1116.2" r="3.3" fill="#0000C8"/>
<line x1="256.96" y1="1137.4" x2="256.96" y2="1145.2" stroke="#0000C8" stroke-width="1.1"/>
<line x1="253.46" y1="1137.4" x2="260.46" y2="1137.4" stroke="#0000C8" stroke-width="1.1"/>
<line x1="253.46" y1="1145.2" x2="260.46" y2="1145.2" stroke="#0000C8" stroke-width="1.1"/>
<circle cx="256.96" cy="1141.5" r="3.3" fill="#0000C8"/>
<line x1="367.91" y1="1150.2" x2="367.91" y2="1157.5" stroke="#0000C8" stroke-width="1.1"/>
<line x1="364.41" y1="1150.2" x2="371.41" y2="1150.2" stroke="#0000C8" stroke-width="1.1"/>
<line x1="364.41" y1="1157.5" x2="371.41" y2="1157.5" stroke="#0000C8" stroke-width="1.1"/>
<circle cx="367.91" cy="1153.8" r="3.3" fill="#0000C8"/>
<polyline points="146,1053.7 182.99,1057.8 219.97,1065.7 256.96,1075.1 367.91,1079" fill="none" stroke="#000" stroke-width="1"/>
<line x1="146" y1="1049.2" x2="146" y2="1057.8" stroke="#000" stroke-width="1.1"/>
<line x1="142.5" y1="1049.2" x2="149.5" y2="1049.2" stroke="#000" stroke-width="1.1"/>
<line x1="142.5" y1="1057.8" x2="149.5" y2="1057.8" stroke="#000" stroke-width="1.1"/>
<circle cx="146" cy="1053.7" r="3.3" fill="#000"/>
<line x1="182.99" y1="1053.4" x2="182.99" y2="1062.1" stroke="#000" stroke-width="1.1"/>
<line x1="179.49" y1="1053.4" x2="186.49" y2="1053.4" stroke="#000" stroke-width="1.1"/>
<line x1="179.49" y1="1062.1" x2="186.49" y2="1062.1" stroke="#000" stroke-width="1.1"/>
<circle cx="182.99" cy="1057.8" r="3.3" fill="#000"/>
<circle cx="219.97" cy="1065.7" r="3.3" fill="#000"/>
<line x1="256.96" y1="1070.9" x2="256.96" y2="1079.5" stroke="#000" stroke-width="1.1"/>
<line x1="253.46" y1="1070.9" x2="260.46" y2="1070.9" stroke="#000" stroke-width="1.1"/>
<line x1="253.46" y1="1079.5" x2="260.46" y2="1079.5" stroke="#000" stroke-width="1.1"/>
<circle cx="256.96" cy="1075.1" r="3.3" fill="#000"/>
<line x1="367.91" y1="1070.9" x2="367.91" y2="1086.9" stroke="#000" stroke-width="1.1"/>
<line x1="364.41" y1="1070.9" x2="371.41" y2="1070.9" stroke="#000" stroke-width="1.1"/>
<line x1="364.41" y1="1086.9" x2="371.41" y2="1086.9" stroke="#000" stroke-width="1.1"/>
<circle cx="367.91" cy="1079" r="3.3" fill="#000"/>
<line x1="297.8" y1="996.3" x2="315.6" y2="996.3" stroke="#000" stroke-width="1"/>
<circle cx="306.7" cy="996.3" r="3.3" fill="#000"/>
<line x1="297.8" y1="1019" x2="315.6" y2="1019" stroke="#0000C8" stroke-width="1.2"/>
<circle cx="306.7" cy="1019" r="3.3" fill="#0000C8"/>
<text class="s" x="326.2" y="1000.7" font-size="14.34">hsa_circ_0021205</text>
<text class="s" x="326.2" y="1023.4" font-size="14.05">WEE1 mRNA</text>
<text class="sb" x="395.6" y="1161.8" font-size="14" text-anchor="middle">****</text>
<text class="sb" x="111" y="1083" font-size="14.45" text-anchor="middle" transform="rotate(-90 111 1083)">Relative RNA levels</text>
<text class="sb" x="275.2" y="1210.5" font-size="13.8" text-anchor="middle">Time (hours)</text>
<line x1="640.1" y1="997.65" x2="640.1" y2="1180.25" stroke="#000" stroke-width="2.1"/>
<line x1="633.1" y1="1179.2" x2="640.1" y2="1179.2" stroke="#000" stroke-width="2.1"/>
<text class="sb" x="630.5" y="1184.3" font-size="13.6" text-anchor="end">0.0</text>
<line x1="633.1" y1="1118.87" x2="640.1" y2="1118.87" stroke="#000" stroke-width="2.1"/>
<text class="sb" x="630.5" y="1123.97" font-size="13.6" text-anchor="end">0.5</text>
<line x1="633.1" y1="1058.53" x2="640.1" y2="1058.53" stroke="#000" stroke-width="2.1"/>
<text class="sb" x="630.5" y="1063.63" font-size="13.6" text-anchor="end">1.0</text>
<line x1="633.1" y1="998.2" x2="640.1" y2="998.2" stroke="#000" stroke-width="2.1"/>
<text class="sb" x="630.5" y="1003.3" font-size="13.6" text-anchor="end">1.5</text>
<line x1="640.1" y1="1179.2" x2="911.3" y2="1179.2" stroke="#000" stroke-width="2.1"/>
<line x1="640.1" y1="1179.2" x2="640.1" y2="1186.2" stroke="#000" stroke-width="2.1"/>
<text class="sb" x="640.1" y="1201.7" font-size="13" text-anchor="middle">0</text>
<line x1="678.84" y1="1179.2" x2="678.84" y2="1186.2" stroke="#000" stroke-width="2.1"/>
<text class="sb" x="678.84" y="1201.7" font-size="13" text-anchor="middle">4</text>
<line x1="717.59" y1="1179.2" x2="717.59" y2="1186.2" stroke="#000" stroke-width="2.1"/>
<text class="sb" x="717.59" y="1201.7" font-size="13" text-anchor="middle">8</text>
<line x1="756.33" y1="1179.2" x2="756.33" y2="1186.2" stroke="#000" stroke-width="2.1"/>
<text class="sb" x="756.33" y="1201.7" font-size="13" text-anchor="middle">12</text>
<line x1="795.07" y1="1179.2" x2="795.07" y2="1186.2" stroke="#000" stroke-width="2.1"/>
<text class="sb" x="795.07" y="1201.7" font-size="13" text-anchor="middle">16</text>
<line x1="833.81" y1="1179.2" x2="833.81" y2="1186.2" stroke="#000" stroke-width="2.1"/>
<text class="sb" x="833.81" y="1201.7" font-size="13" text-anchor="middle">20</text>
<line x1="872.56" y1="1179.2" x2="872.56" y2="1186.2" stroke="#000" stroke-width="2.1"/>
<text class="sb" x="872.56" y="1201.7" font-size="13" text-anchor="middle">24</text>
<line x1="911.3" y1="1179.2" x2="911.3" y2="1186.2" stroke="#000" stroke-width="2.1"/>
<text class="sb" x="911.3" y="1201.7" font-size="13" text-anchor="middle">28</text>
<text class="sb" x="775.9" y="976.1" font-size="17.41" text-anchor="middle">LN229</text>
<polyline points="640.1,1058.5 678.84,1118.7 717.59,1146.9 756.33,1156.6 872.56,1162.9" fill="none" stroke="#0000C8" stroke-width="1.2"/>
<line x1="640.1" y1="1048.8" x2="640.1" y2="1069" stroke="#0000C8" stroke-width="1.1"/>
<line x1="636.6" y1="1048.8" x2="643.6" y2="1048.8" stroke="#0000C8" stroke-width="1.1"/>
<line x1="636.6" y1="1069" x2="643.6" y2="1069" stroke="#0000C8" stroke-width="1.1"/>
<circle cx="640.1" cy="1058.5" r="3.3" fill="#0000C8"/>
<circle cx="678.84" cy="1118.7" r="3.3" fill="#0000C8"/>
<line x1="717.59" y1="1143.1" x2="717.59" y2="1151" stroke="#0000C8" stroke-width="1.1"/>
<line x1="714.09" y1="1143.1" x2="721.09" y2="1143.1" stroke="#0000C8" stroke-width="1.1"/>
<line x1="714.09" y1="1151" x2="721.09" y2="1151" stroke="#0000C8" stroke-width="1.1"/>
<circle cx="717.59" cy="1146.9" r="3.3" fill="#0000C8"/>
<line x1="756.33" y1="1151.4" x2="756.33" y2="1161.8" stroke="#0000C8" stroke-width="1.1"/>
<line x1="752.83" y1="1151.4" x2="759.83" y2="1151.4" stroke="#0000C8" stroke-width="1.1"/>
<line x1="752.83" y1="1161.8" x2="759.83" y2="1161.8" stroke="#0000C8" stroke-width="1.1"/>
<circle cx="756.33" cy="1156.6" r="3.3" fill="#0000C8"/>
<line x1="872.56" y1="1156.6" x2="872.56" y2="1169" stroke="#0000C8" stroke-width="1.1"/>
<line x1="869.06" y1="1156.6" x2="876.06" y2="1156.6" stroke="#0000C8" stroke-width="1.1"/>
<line x1="869.06" y1="1169" x2="876.06" y2="1169" stroke="#0000C8" stroke-width="1.1"/>
<circle cx="872.56" cy="1162.9" r="3.3" fill="#0000C8"/>
<polyline points="640.1,1058.5 678.84,1065.7 717.59,1070.2 756.33,1077 872.56,1083.7" fill="none" stroke="#000" stroke-width="1"/>
<line x1="640.1" y1="1053.9" x2="640.1" y2="1063" stroke="#000" stroke-width="1.1"/>
<line x1="636.6" y1="1053.9" x2="643.6" y2="1053.9" stroke="#000" stroke-width="1.1"/>
<line x1="636.6" y1="1063" x2="643.6" y2="1063" stroke="#000" stroke-width="1.1"/>
<circle cx="640.1" cy="1058.5" r="3.3" fill="#000"/>
<line x1="678.84" y1="1061.2" x2="678.84" y2="1070.2" stroke="#000" stroke-width="1.1"/>
<line x1="675.34" y1="1061.2" x2="682.34" y2="1061.2" stroke="#000" stroke-width="1.1"/>
<line x1="675.34" y1="1070.2" x2="682.34" y2="1070.2" stroke="#000" stroke-width="1.1"/>
<circle cx="678.84" cy="1065.7" r="3.3" fill="#000"/>
<line x1="717.59" y1="1065.7" x2="717.59" y2="1074.7" stroke="#000" stroke-width="1.1"/>
<line x1="714.09" y1="1065.7" x2="721.09" y2="1065.7" stroke="#000" stroke-width="1.1"/>
<line x1="714.09" y1="1074.7" x2="721.09" y2="1074.7" stroke="#000" stroke-width="1.1"/>
<circle cx="717.59" cy="1070.2" r="3.3" fill="#000"/>
<line x1="756.33" y1="1067" x2="756.33" y2="1086.7" stroke="#000" stroke-width="1.1"/>
<line x1="752.83" y1="1067" x2="759.83" y2="1067" stroke="#000" stroke-width="1.1"/>
<line x1="752.83" y1="1086.7" x2="759.83" y2="1086.7" stroke="#000" stroke-width="1.1"/>
<circle cx="756.33" cy="1077" r="3.3" fill="#000"/>
<line x1="872.56" y1="1077.2" x2="872.56" y2="1090" stroke="#000" stroke-width="1.1"/>
<line x1="869.06" y1="1077.2" x2="876.06" y2="1077.2" stroke="#000" stroke-width="1.1"/>
<line x1="869.06" y1="1090" x2="876.06" y2="1090" stroke="#000" stroke-width="1.1"/>
<circle cx="872.56" cy="1083.7" r="3.3" fill="#000"/>
<line x1="801" y1="995.3" x2="819.5" y2="995.3" stroke="#000" stroke-width="1"/>
<circle cx="810.25" cy="995.3" r="3.3" fill="#000"/>
<line x1="801" y1="1019.6" x2="819.5" y2="1019.6" stroke="#0000C8" stroke-width="1.2"/>
<circle cx="810.25" cy="1019.6" r="3.3" fill="#0000C8"/>
<text class="s" x="830.8" y="999.7" font-size="15.02">hsa_circ_0021205</text>
<text class="s" x="830.8" y="1024" font-size="14.72">WEE1 mRNA</text>
<text class="sb" x="902.7" y="1170.2" font-size="14" text-anchor="middle">****</text>
<text class="sb" x="603.5" y="1089.5" font-size="15.1" text-anchor="middle" transform="rotate(-90 603.5 1089.5)">Relative RNA levels</text>
<text class="sb" x="776" y="1223.2" font-size="14.47" text-anchor="middle">Time (hours)</text>
<line x1="1229.4" y1="964.95" x2="1229.4" y2="1195.35" stroke="#000" stroke-width="2.3"/>
<line x1="1221.2" y1="1194.2" x2="1229.4" y2="1194.2" stroke="#000" stroke-width="2.3"/>
<text class="sb" x="1218.6" y="1200.1" font-size="17" text-anchor="end">0.0</text>
<line x1="1221.2" y1="1118" x2="1229.4" y2="1118" stroke="#000" stroke-width="2.3"/>
<text class="sb" x="1218.6" y="1123.9" font-size="17" text-anchor="end">0.5</text>
<line x1="1221.2" y1="1041.8" x2="1229.4" y2="1041.8" stroke="#000" stroke-width="2.3"/>
<text class="sb" x="1218.6" y="1047.7" font-size="17" text-anchor="end">1.0</text>
<line x1="1221.2" y1="965.6" x2="1229.4" y2="965.6" stroke="#000" stroke-width="2.3"/>
<text class="sb" x="1218.6" y="971.5" font-size="17" text-anchor="end">1.5</text>
<line x1="1221.2" y1="1194.2" x2="1440.3" y2="1194.2" stroke="#000" stroke-width="2.3"/>
<line x1="1278.3" y1="1194.2" x2="1278.3" y2="1202.6" stroke="#000" stroke-width="2.3"/>
<line x1="1390.3" y1="1194.2" x2="1390.3" y2="1202.6" stroke="#000" stroke-width="2.3"/>
<path d="M1245.6,1194.2 L1245.6,1044.3 L1268.4,1044.3 L1268.4,1194.2" fill="none" stroke="#000" stroke-width="3.2" stroke-linejoin="miter"/>
<path d="M1287.6,1194.2 L1287.6,1043.1 L1310.9,1043.1 L1310.9,1194.2" fill="none" stroke="#0000C8" stroke-width="3.2" stroke-linejoin="miter"/>
<path d="M1357.7,1194.2 L1357.7,1039.6 L1380.4,1039.6 L1380.4,1194.2" fill="none" stroke="#000" stroke-width="3.2" stroke-linejoin="miter"/>
<path d="M1399.7,1194.2 L1399.7,1154 L1422.4,1154 L1422.4,1194.2" fill="none" stroke="#0000C8" stroke-width="3.2" stroke-linejoin="miter"/>
<line x1="1257" y1="1038" x2="1257" y2="1046.7" stroke="#000" stroke-width="1.2"/>
<line x1="1250.25" y1="1038" x2="1263.75" y2="1038" stroke="#000" stroke-width="1.2"/>
<line x1="1250.25" y1="1046.7" x2="1263.75" y2="1046.7" stroke="#000" stroke-width="1.2"/>
<line x1="1299.5" y1="1029.3" x2="1299.5" y2="1053.3" stroke="#0000C8" stroke-width="1.2"/>
<line x1="1292.75" y1="1029.3" x2="1306.25" y2="1029.3" stroke="#0000C8" stroke-width="1.2"/>
<line x1="1292.75" y1="1053.3" x2="1306.25" y2="1053.3" stroke="#0000C8" stroke-width="1.2"/>
<line x1="1369" y1="1029.3" x2="1369" y2="1045.8" stroke="#000" stroke-width="1.2"/>
<line x1="1362.25" y1="1029.3" x2="1375.75" y2="1029.3" stroke="#000" stroke-width="1.2"/>
<line x1="1362.25" y1="1045.8" x2="1375.75" y2="1045.8" stroke="#000" stroke-width="1.2"/>
<line x1="1411" y1="1148.2" x2="1411" y2="1156" stroke="#0000C8" stroke-width="1.2"/>
<line x1="1404.25" y1="1148.2" x2="1417.75" y2="1148.2" stroke="#0000C8" stroke-width="1.2"/>
<line x1="1404.25" y1="1156" x2="1417.75" y2="1156" stroke="#0000C8" stroke-width="1.2"/>
<circle cx="1257.5" cy="1038" r="4.3" fill="#000"/>
<circle cx="1247.6" cy="1046.7" r="4.3" fill="#000"/>
<circle cx="1267.2" cy="1041" r="4.3" fill="#000"/>
<circle cx="1299.5" cy="1026.9" r="4.3" fill="#0000C8"/>
<circle cx="1290" cy="1050.5" r="4.3" fill="#0000C8"/>
<circle cx="1309" cy="1045" r="4.3" fill="#0000C8"/>
<circle cx="1379" cy="1029.7" r="4.3" fill="#000"/>
<circle cx="1369" cy="1036.4" r="4.3" fill="#000"/>
<circle cx="1369" cy="1045" r="4.3" fill="#000"/>
<circle cx="1411" cy="1147" r="4.3" fill="#0000C8"/>
<circle cx="1401" cy="1154.8" r="4.3" fill="#0000C8"/>
<circle cx="1420.3" cy="1153" r="4.3" fill="#0000C8"/>
<text class="sb" x="1334.4" y="939.6" font-size="20.81" text-anchor="middle">SNB19</text>
<circle cx="1397.4" cy="961.8" r="4.3" fill="#000"/>
<circle cx="1397.4" cy="987.8" r="4.3" fill="#0000C8"/>
<text class="s" x="1421.7" y="967.4" font-size="17.11">Mock</text>
<text class="s" x="1421.7" y="993.4" font-size="17.11">RNase R</text>
<text class="sb" x="1299.5" y="1015.6" font-size="19" text-anchor="middle">ns</text>
<text class="sb" x="1410.8" y="1140.6" font-size="16.8" text-anchor="middle">***</text>
<text class="sb" x="1187.5" y="1080.5" font-size="17.29" text-anchor="middle" transform="rotate(-90 1187.5 1080.5)">RQ value of RNAs</text>
<text class="sb" x="1278.5" y="1218.5" font-size="14.46" text-anchor="middle">hsa_circ_0021205</text>
<text class="sb" x="1390.3" y="1218.5" font-size="14.35" text-anchor="middle">WEE1 mRNA</text>
<line x1="1671" y1="955.75" x2="1671" y2="1193.85" stroke="#000" stroke-width="2.3"/>
<line x1="1662.8" y1="1192.7" x2="1671" y2="1192.7" stroke="#000" stroke-width="2.3"/>
<text class="sb" x="1660.2" y="1198.6" font-size="17" text-anchor="end">0.0</text>
<line x1="1662.8" y1="1113.93" x2="1671" y2="1113.93" stroke="#000" stroke-width="2.3"/>
<text class="sb" x="1660.2" y="1119.83" font-size="17" text-anchor="end">0.5</text>
<line x1="1662.8" y1="1035.17" x2="1671" y2="1035.17" stroke="#000" stroke-width="2.3"/>
<text class="sb" x="1660.2" y="1041.07" font-size="17" text-anchor="end">1.0</text>
<line x1="1662.8" y1="956.4" x2="1671" y2="956.4" stroke="#000" stroke-width="2.3"/>
<text class="sb" x="1660.2" y="962.3" font-size="17" text-anchor="end">1.5</text>
<line x1="1662.8" y1="1192.7" x2="1888" y2="1192.7" stroke="#000" stroke-width="2.3"/>
<line x1="1721.2" y1="1192.7" x2="1721.2" y2="1201.1" stroke="#000" stroke-width="2.3"/>
<line x1="1836.5" y1="1192.7" x2="1836.5" y2="1201.1" stroke="#000" stroke-width="2.3"/>
<path d="M1687.7,1192.7 L1687.7,1038.9 L1711.9,1038.9 L1711.9,1192.7" fill="none" stroke="#000" stroke-width="3.2" stroke-linejoin="miter"/>
<path d="M1730.8,1192.7 L1730.8,1029.9 L1755,1029.9 L1755,1192.7" fill="none" stroke="#0000C8" stroke-width="3.2" stroke-linejoin="miter"/>
<path d="M1803.4,1192.7 L1803.4,1035.6 L1826.9,1035.6 L1826.9,1192.7" fill="none" stroke="#000" stroke-width="3.2" stroke-linejoin="miter"/>
<path d="M1846.1,1192.7 L1846.1,1143.4 L1870.2,1143.4 L1870.2,1192.7" fill="none" stroke="#0000C8" stroke-width="3.2" stroke-linejoin="miter"/>
<line x1="1700.2" y1="1024.7" x2="1700.2" y2="1048.2" stroke="#000" stroke-width="1.2"/>
<line x1="1693.65" y1="1024.7" x2="1706.75" y2="1024.7" stroke="#000" stroke-width="1.2"/>
<line x1="1693.65" y1="1048.2" x2="1706.75" y2="1048.2" stroke="#000" stroke-width="1.2"/>
<line x1="1742.9" y1="1007.7" x2="1742.9" y2="1048.2" stroke="#0000C8" stroke-width="1.2"/>
<line x1="1736.35" y1="1007.7" x2="1749.45" y2="1007.7" stroke="#0000C8" stroke-width="1.2"/>
<line x1="1736.35" y1="1048.2" x2="1749.45" y2="1048.2" stroke="#0000C8" stroke-width="1.2"/>
<line x1="1814.8" y1="1011.9" x2="1814.8" y2="1054.5" stroke="#000" stroke-width="1.2"/>
<line x1="1808.25" y1="1011.9" x2="1821.35" y2="1011.9" stroke="#000" stroke-width="1.2"/>
<line x1="1808.25" y1="1054.5" x2="1821.35" y2="1054.5" stroke="#000" stroke-width="1.2"/>
<line x1="1858.1" y1="1137.6" x2="1858.1" y2="1143.9" stroke="#0000C8" stroke-width="1.2"/>
<line x1="1851.55" y1="1137.6" x2="1864.65" y2="1137.6" stroke="#0000C8" stroke-width="1.2"/>
<line x1="1851.55" y1="1143.9" x2="1864.65" y2="1143.9" stroke="#0000C8" stroke-width="1.2"/>
<circle cx="1700.2" cy="1022.6" r="4.17" fill="#000"/>
<circle cx="1689.9" cy="1043.6" r="4.17" fill="#000"/>
<circle cx="1709.9" cy="1043.6" r="4.17" fill="#000"/>
<circle cx="1742.9" cy="1010.4" r="4.17" fill="#0000C8"/>
<circle cx="1742.9" cy="1022.6" r="4.17" fill="#0000C8"/>
<circle cx="1742.9" cy="1050.3" r="4.17" fill="#0000C8"/>
<circle cx="1814.8" cy="1008.3" r="4.17" fill="#000"/>
<circle cx="1805.6" cy="1045.7" r="4.17" fill="#000"/>
<circle cx="1824.3" cy="1045.1" r="4.17" fill="#000"/>
<circle cx="1858.1" cy="1138.2" r="4.17" fill="#0000C8"/>
<circle cx="1848.7" cy="1145" r="4.17" fill="#0000C8"/>
<circle cx="1868" cy="1142.9" r="4.17" fill="#0000C8"/>
<text class="sb" x="1779.2" y="929.9" font-size="20.73" text-anchor="middle">LN229</text>
<circle cx="1843.8" cy="952.6" r="4.17" fill="#000"/>
<circle cx="1843.8" cy="976.7" r="4.17" fill="#0000C8"/>
<text class="s" x="1869" y="958.2" font-size="17.42">Mock</text>
<text class="s" x="1869" y="982.3" font-size="17.42">RNase R</text>
<text class="sb" x="1742.9" y="997" font-size="18.43" text-anchor="middle">ns</text>
<text class="sb" x="1857.5" y="1129.8" font-size="16.3" text-anchor="middle">***</text>
<text class="sb" x="1627.5" y="1075.5" font-size="17.8" text-anchor="middle" transform="rotate(-90 1627.5 1075.5)">RQ value of RNAs</text>
<text class="sb" x="1721.7" y="1217.9" font-size="14.85" text-anchor="middle">hsa_circ_0021205</text>
<text class="sb" x="1836.5" y="1217.9" font-size="14.65" text-anchor="middle">WEE1 mRNA</text>
<line x1="175.6" y1="1331.15" x2="175.6" y2="1563.75" stroke="#000" stroke-width="2.3"/>
<line x1="167.1" y1="1562.6" x2="175.6" y2="1562.6" stroke="#000" stroke-width="2.3"/>
<text class="sb" x="164.3" y="1567.9" font-size="14.8" text-anchor="end">0</text>
<line x1="167.1" y1="1485.67" x2="175.6" y2="1485.67" stroke="#000" stroke-width="2.3"/>
<text class="sb" x="164.3" y="1490.97" font-size="14.8" text-anchor="end">50</text>
<line x1="167.1" y1="1408.73" x2="175.6" y2="1408.73" stroke="#000" stroke-width="2.3"/>
<text class="sb" x="164.3" y="1414.03" font-size="14.8" text-anchor="end">100</text>
<line x1="167.1" y1="1331.8" x2="175.6" y2="1331.8" stroke="#000" stroke-width="2.3"/>
<text class="sb" x="164.3" y="1337.1" font-size="14.8" text-anchor="end">150</text>
<line x1="167.1" y1="1562.6" x2="430.8" y2="1562.6" stroke="#000" stroke-width="2.3"/>
<line x1="214.1" y1="1562.6" x2="214.1" y2="1570.4" stroke="#000" stroke-width="2.3"/>
<line x1="273.1" y1="1562.6" x2="273.1" y2="1570.4" stroke="#000" stroke-width="2.3"/>
<line x1="331.5" y1="1562.6" x2="331.5" y2="1570.4" stroke="#000" stroke-width="2.3"/>
<line x1="390.5" y1="1562.6" x2="390.5" y2="1570.4" stroke="#000" stroke-width="2.3"/>
<rect x="194.9" y="1408.73" width="38.9" height="30.77" fill="#A2A2A6"/>
<rect x="194.9" y="1439.5" width="38.9" height="123.1" fill="#000"/>
<line x1="214.35" y1="1404.4" x2="214.35" y2="1408.73" stroke="#A2A2A6" stroke-width="1.3"/>
<line x1="205.15" y1="1404.4" x2="223.55" y2="1404.4" stroke="#A2A2A6" stroke-width="1.3"/>
<line x1="214.35" y1="1435.1" x2="214.35" y2="1439.5" stroke="#000" stroke-width="1.3"/>
<line x1="205.15" y1="1435.1" x2="223.55" y2="1435.1" stroke="#000" stroke-width="1.3"/>
<rect x="253.8" y="1408.73" width="39" height="34.07" fill="#A2A2A6"/>
<rect x="253.8" y="1442.8" width="39" height="119.8" fill="#000"/>
<line x1="273.3" y1="1403.6" x2="273.3" y2="1408.73" stroke="#A2A2A6" stroke-width="1.3"/>
<line x1="264.1" y1="1403.6" x2="282.5" y2="1403.6" stroke="#A2A2A6" stroke-width="1.3"/>
<line x1="273.3" y1="1437.4" x2="273.3" y2="1442.8" stroke="#000" stroke-width="1.3"/>
<line x1="264.1" y1="1437.4" x2="282.5" y2="1437.4" stroke="#000" stroke-width="1.3"/>
<rect x="312.3" y="1408.73" width="39" height="34.07" fill="#A2A2A6"/>
<rect x="312.3" y="1442.8" width="39" height="119.8" fill="#000"/>
<line x1="331.8" y1="1407.4" x2="331.8" y2="1408.73" stroke="#A2A2A6" stroke-width="1.3"/>
<line x1="322.6" y1="1407.4" x2="341" y2="1407.4" stroke="#A2A2A6" stroke-width="1.3"/>
<line x1="331.8" y1="1441.5" x2="331.8" y2="1442.8" stroke="#000" stroke-width="1.3"/>
<line x1="322.6" y1="1441.5" x2="341" y2="1441.5" stroke="#000" stroke-width="1.3"/>
<rect x="371.3" y="1408.73" width="39" height="130.27" fill="#A2A2A6"/>
<rect x="371.3" y="1539" width="39" height="23.6" fill="#000"/>
<line x1="390.8" y1="1408.2" x2="390.8" y2="1408.73" stroke="#A2A2A6" stroke-width="1.3"/>
<line x1="381.6" y1="1408.2" x2="400" y2="1408.2" stroke="#A2A2A6" stroke-width="1.3"/>
<line x1="390.8" y1="1538.2" x2="390.8" y2="1539" stroke="#000" stroke-width="1.3"/>
<line x1="381.6" y1="1538.2" x2="400" y2="1538.2" stroke="#000" stroke-width="1.3"/>
<text class="sb" x="302.5" y="1307.4" font-size="19.52" text-anchor="middle">SNB19</text>
<rect x="347" y="1329.7" width="21" height="10.3" fill="#A2A2A6"/>
<rect x="347" y="1354.4" width="21" height="10.3" fill="#000"/>
<text class="s" x="380" y="1339.5" font-size="15.5">Nuclear</text>
<text class="s" x="380" y="1363.8" font-size="15.5">Cytoplasm</text>
<text class="sb" x="132" y="1447.9" font-size="16.41" text-anchor="middle" transform="rotate(-90 132 1447.9)">Relative RNA level (% total )</text>
<text class="sb" x="219.3" y="1586" font-size="15.5" text-anchor="end" transform="rotate(-45 219.3 1586)">hsa_circ_0021205</text>
<text class="sb" x="278.3" y="1587.3" font-size="15.5" text-anchor="end" transform="rotate(-45 278.3 1587.3)">WEE1 mRNA</text>
<text class="sb" x="335.9" y="1586" font-size="15.5" text-anchor="end" transform="rotate(-45 335.9 1586)">GAPDH</text>
<text class="sb" x="394.9" y="1586" font-size="15.5" text-anchor="end" transform="rotate(-45 394.9 1586)">U6</text>
<line x1="652.4" y1="1319.25" x2="652.4" y2="1560.05" stroke="#000" stroke-width="2.3"/>
<line x1="643.9" y1="1558.9" x2="652.4" y2="1558.9" stroke="#000" stroke-width="2.3"/>
<text class="sb" x="641.1" y="1564.2" font-size="14.8" text-anchor="end">0</text>
<line x1="643.9" y1="1479.23" x2="652.4" y2="1479.23" stroke="#000" stroke-width="2.3"/>
<text class="sb" x="641.1" y="1484.53" font-size="14.8" text-anchor="end">50</text>
<line x1="643.9" y1="1399.57" x2="652.4" y2="1399.57" stroke="#000" stroke-width="2.3"/>
<text class="sb" x="641.1" y="1404.87" font-size="14.8" text-anchor="end">100</text>
<line x1="643.9" y1="1319.9" x2="652.4" y2="1319.9" stroke="#000" stroke-width="2.3"/>
<text class="sb" x="641.1" y="1325.2" font-size="14.8" text-anchor="end">150</text>
<line x1="643.9" y1="1558.9" x2="917" y2="1558.9" stroke="#000" stroke-width="2.3"/>
<line x1="693.3" y1="1558.9" x2="693.3" y2="1566.7" stroke="#000" stroke-width="2.3"/>
<line x1="753.9" y1="1558.9" x2="753.9" y2="1566.7" stroke="#000" stroke-width="2.3"/>
<line x1="814.8" y1="1558.9" x2="814.8" y2="1566.7" stroke="#000" stroke-width="2.3"/>
<line x1="875.5" y1="1558.9" x2="875.5" y2="1566.7" stroke="#000" stroke-width="2.3"/>
<rect x="673.2" y="1399.57" width="40.4" height="24.33" fill="#A2A2A6"/>
<rect x="673.2" y="1423.9" width="40.4" height="135" fill="#000"/>
<line x1="693.4" y1="1397.7" x2="693.4" y2="1399.57" stroke="#A2A2A6" stroke-width="1.3"/>
<line x1="684.2" y1="1397.7" x2="702.6" y2="1397.7" stroke="#A2A2A6" stroke-width="1.3"/>
<line x1="693.4" y1="1421.4" x2="693.4" y2="1423.9" stroke="#000" stroke-width="1.3"/>
<line x1="684.2" y1="1421.4" x2="702.6" y2="1421.4" stroke="#000" stroke-width="1.3"/>
<rect x="734.1" y="1399.57" width="40.1" height="30.43" fill="#A2A2A6"/>
<rect x="734.1" y="1430" width="40.1" height="128.9" fill="#000"/>
<line x1="754.15" y1="1395.7" x2="754.15" y2="1399.57" stroke="#A2A2A6" stroke-width="1.3"/>
<line x1="744.95" y1="1395.7" x2="763.35" y2="1395.7" stroke="#A2A2A6" stroke-width="1.3"/>
<line x1="754.15" y1="1426.3" x2="754.15" y2="1430" stroke="#000" stroke-width="1.3"/>
<line x1="744.95" y1="1426.3" x2="763.35" y2="1426.3" stroke="#000" stroke-width="1.3"/>
<rect x="795.3" y="1399.57" width="39.8" height="28.43" fill="#A2A2A6"/>
<rect x="795.3" y="1428" width="39.8" height="130.9" fill="#000"/>
<line x1="815.2" y1="1395.2" x2="815.2" y2="1399.57" stroke="#A2A2A6" stroke-width="1.3"/>
<line x1="806" y1="1395.2" x2="824.4" y2="1395.2" stroke="#A2A2A6" stroke-width="1.3"/>
<line x1="815.2" y1="1423.1" x2="815.2" y2="1428" stroke="#000" stroke-width="1.3"/>
<line x1="806" y1="1423.1" x2="824.4" y2="1423.1" stroke="#000" stroke-width="1.3"/>
<rect x="855.9" y="1399.57" width="39.9" height="131.43" fill="#A2A2A6"/>
<rect x="855.9" y="1531" width="39.9" height="27.9" fill="#000"/>
<line x1="875.85" y1="1398.7" x2="875.85" y2="1399.57" stroke="#A2A2A6" stroke-width="1.3"/>
<line x1="866.65" y1="1398.7" x2="885.05" y2="1398.7" stroke="#A2A2A6" stroke-width="1.3"/>
<line x1="875.85" y1="1529" x2="875.85" y2="1531" stroke="#000" stroke-width="1.3"/>
<line x1="866.65" y1="1529" x2="885.05" y2="1529" stroke="#000" stroke-width="1.3"/>
<text class="sb" x="785.3" y="1294.7" font-size="19.63" text-anchor="middle">LN229</text>
<rect x="833.9" y="1318.2" width="22" height="11" fill="#A2A2A6"/>
<rect x="833.9" y="1342.7" width="22" height="11" fill="#000"/>
<text class="s" x="868.6" y="1329" font-size="15.5">Nuclear</text>
<text class="s" x="868.6" y="1353.4" font-size="15.5">Cytoplasm</text>
<text class="sb" x="609.5" y="1440.4" font-size="17.04" text-anchor="middle" transform="rotate(-90 609.5 1440.4)">Relative RNA level (% total )</text>
<text class="sb" x="697.2" y="1583.4" font-size="15.8" text-anchor="end" transform="rotate(-45 697.2 1583.4)">hsa_circ_0021205</text>
<text class="sb" x="758.4" y="1584.6" font-size="15.8" text-anchor="end" transform="rotate(-45 758.4 1584.6)">WEE1 mRNA</text>
<text class="sb" x="819.5" y="1582.2" font-size="15.8" text-anchor="end" transform="rotate(-45 819.5 1582.2)">GAPDH</text>
<text class="sb" x="880.6" y="1583.4" font-size="15.8" text-anchor="end" transform="rotate(-45 880.6 1583.4)">U6</text>
<line x1="1211.1" y1="1363.25" x2="1211.1" y2="1543.15" stroke="#000" stroke-width="1.9"/>
<line x1="1204.5" y1="1542.2" x2="1211.1" y2="1542.2" stroke="#000" stroke-width="1.9"/>
<text class="sb" x="1202" y="1547.1" font-size="13.6" text-anchor="end">0.0</text>
<line x1="1204.5" y1="1482.8" x2="1211.1" y2="1482.8" stroke="#000" stroke-width="1.9"/>
<text class="sb" x="1202" y="1487.7" font-size="13.6" text-anchor="end">0.5</text>
<line x1="1204.5" y1="1423.4" x2="1211.1" y2="1423.4" stroke="#000" stroke-width="1.9"/>
<text class="sb" x="1202" y="1428.3" font-size="13.6" text-anchor="end">1.0</text>
<line x1="1204.5" y1="1364" x2="1211.1" y2="1364" stroke="#000" stroke-width="1.9"/>
<text class="sb" x="1202" y="1368.9" font-size="13.6" text-anchor="end">1.5</text>
<line x1="1204.5" y1="1542.2" x2="1478.8" y2="1542.2" stroke="#000" stroke-width="1.9"/>
<line x1="1211.1" y1="1542.2" x2="1211.1" y2="1548.8" stroke="#000" stroke-width="1.9"/>
<text class="sb" x="1211.1" y="1564.8" font-size="13.6" text-anchor="middle">0</text>
<line x1="1258.86" y1="1542.2" x2="1258.86" y2="1548.8" stroke="#000" stroke-width="1.9"/>
<text class="sb" x="1258.86" y="1564.8" font-size="13.6" text-anchor="middle">5</text>
<line x1="1306.62" y1="1542.2" x2="1306.62" y2="1548.8" stroke="#000" stroke-width="1.9"/>
<text class="sb" x="1306.62" y="1564.8" font-size="13.6" text-anchor="middle">10</text>
<line x1="1354.38" y1="1542.2" x2="1354.38" y2="1548.8" stroke="#000" stroke-width="1.9"/>
<text class="sb" x="1354.38" y="1564.8" font-size="13.6" text-anchor="middle">15</text>
<line x1="1402.14" y1="1542.2" x2="1402.14" y2="1548.8" stroke="#000" stroke-width="1.9"/>
<text class="sb" x="1402.14" y="1564.8" font-size="13.6" text-anchor="middle">20</text>
<line x1="1449.9" y1="1542.2" x2="1449.9" y2="1548.8" stroke="#000" stroke-width="1.9"/>
<text class="sb" x="1449.9" y="1564.8" font-size="13.6" text-anchor="middle">25</text>
<text class="sb" x="1271.9" y="1342.5" font-size="17.52">R=-0.5426,  P&lt; 0.05</text>
<text class="sb" x="1211" y="1585.5" font-size="14.76">Relative mRNA levels of hsa_circ_0021205</text>
<text class="sb" x="1158.7" y="1453.4" font-size="14.8" text-anchor="middle" transform="rotate(-90 1158.7 1453.4)">Relative mRNA levels of</text>
<text class="sb" x="1176.5" y="1454" font-size="14.24" text-anchor="middle" transform="rotate(-90 1176.5 1454)">miR-195-5p</text>
<line x1="1221.6" y1="1470.6" x2="1445.3" y2="1542.3" stroke="#000" stroke-width="2.7"/>
<circle cx="1221.17" cy="1418" r="3.4" fill="#000"/>
<circle cx="1257.27" cy="1422.01" r="3.4" fill="#000"/>
<circle cx="1268.36" cy="1458.58" r="3.4" fill="#000"/>
<circle cx="1253.49" cy="1475.09" r="3.4" fill="#000"/>
<circle cx="1261.04" cy="1482.17" r="3.4" fill="#000"/>
<circle cx="1262.93" cy="1484.77" r="3.4" fill="#000"/>
<circle cx="1235.33" cy="1486.42" r="3.4" fill="#000"/>
<circle cx="1242.41" cy="1485.71" r="3.4" fill="#000"/>
<circle cx="1259.63" cy="1491.61" r="3.4" fill="#000"/>
<circle cx="1257.03" cy="1497.74" r="3.4" fill="#000"/>
<circle cx="1291.95" cy="1499.39" r="3.4" fill="#000"/>
<circle cx="1235.8" cy="1505.29" r="3.4" fill="#000"/>
<circle cx="1270.01" cy="1504.58" r="3.4" fill="#000"/>
<circle cx="1337.71" cy="1494.67" r="3.4" fill="#000"/>
<circle cx="1328.28" cy="1508.12" r="3.4" fill="#000"/>
<circle cx="1263.4" cy="1511.89" r="3.4" fill="#000"/>
<circle cx="1265.29" cy="1520.62" r="3.4" fill="#000"/>
<circle cx="1450" cy="1539.02" r="3.4" fill="#000"/>
<line x1="1672.2" y1="1361.95" x2="1672.2" y2="1542.85" stroke="#000" stroke-width="1.9"/>
<line x1="1665.6" y1="1541.9" x2="1672.2" y2="1541.9" stroke="#000" stroke-width="1.9"/>
<text class="sb" x="1663.1" y="1546.8" font-size="13.6" text-anchor="end">0</text>
<line x1="1665.6" y1="1497.03" x2="1672.2" y2="1497.03" stroke="#000" stroke-width="1.9"/>
<text class="sb" x="1663.1" y="1501.93" font-size="13.6" text-anchor="end">5</text>
<line x1="1665.6" y1="1452.15" x2="1672.2" y2="1452.15" stroke="#000" stroke-width="1.9"/>
<text class="sb" x="1663.1" y="1457.05" font-size="13.6" text-anchor="end">10</text>
<line x1="1665.6" y1="1407.28" x2="1672.2" y2="1407.28" stroke="#000" stroke-width="1.9"/>
<text class="sb" x="1663.1" y="1412.18" font-size="13.6" text-anchor="end">15</text>
<line x1="1665.6" y1="1362.4" x2="1672.2" y2="1362.4" stroke="#000" stroke-width="1.9"/>
<text class="sb" x="1663.1" y="1367.3" font-size="13.6" text-anchor="end">20</text>
<line x1="1665.6" y1="1541.9" x2="1941.5" y2="1541.9" stroke="#000" stroke-width="1.9"/>
<line x1="1672.2" y1="1541.9" x2="1672.2" y2="1548.5" stroke="#000" stroke-width="1.9"/>
<text class="sb" x="1672.2" y="1564.5" font-size="13.6" text-anchor="middle">0</text>
<line x1="1726.06" y1="1541.9" x2="1726.06" y2="1548.5" stroke="#000" stroke-width="1.9"/>
<text class="sb" x="1726.06" y="1564.5" font-size="13.6" text-anchor="middle">5</text>
<line x1="1779.92" y1="1541.9" x2="1779.92" y2="1548.5" stroke="#000" stroke-width="1.9"/>
<text class="sb" x="1779.92" y="1564.5" font-size="13.6" text-anchor="middle">10</text>
<line x1="1833.78" y1="1541.9" x2="1833.78" y2="1548.5" stroke="#000" stroke-width="1.9"/>
<text class="sb" x="1833.78" y="1564.5" font-size="13.6" text-anchor="middle">15</text>
<line x1="1887.64" y1="1541.9" x2="1887.64" y2="1548.5" stroke="#000" stroke-width="1.9"/>
<text class="sb" x="1887.64" y="1564.5" font-size="13.6" text-anchor="middle">20</text>
<line x1="1941.5" y1="1541.9" x2="1941.5" y2="1548.5" stroke="#000" stroke-width="1.9"/>
<text class="sb" x="1941.5" y="1564.5" font-size="13.6" text-anchor="middle">25</text>
<text class="sb" x="1738.9" y="1341.2" font-size="17.62">R=0.7030, P&lt; 0.01</text>
<text class="sb" x="1713.5" y="1585.8" font-size="14.82">Relative mRNA levels of HSL</text>
<text class="sb" x="1622.6" y="1452" font-size="15.01" text-anchor="middle" transform="rotate(-90 1622.6 1452)">Relative mRNA levels of</text>
<text class="sb" x="1640.8" y="1453.1" font-size="14.7" text-anchor="middle" transform="rotate(-90 1640.8 1453.1)">hsa_circ_0021205</text>
<line x1="1683.5" y1="1516.6" x2="1941.5" y2="1404.6" stroke="#000" stroke-width="2.7"/>
<circle cx="1683.94" cy="1532.25" r="3.4" fill="#000"/>
<circle cx="1697.32" cy="1495.32" r="3.4" fill="#000"/>
<circle cx="1698.48" cy="1498.79" r="3.4" fill="#000"/>
<circle cx="1712.32" cy="1488.17" r="3.4" fill="#000"/>
<circle cx="1719.25" cy="1498.79" r="3.4" fill="#000"/>
<circle cx="1720.4" cy="1502.02" r="3.4" fill="#000"/>
<circle cx="1717.4" cy="1512.63" r="3.4" fill="#000"/>
<circle cx="1732.63" cy="1486.55" r="3.4" fill="#000"/>
<circle cx="1733.09" cy="1518.17" r="3.4" fill="#000"/>
<circle cx="1723.4" cy="1431.63" r="3.4" fill="#000"/>
<circle cx="1761.25" cy="1465.32" r="3.4" fill="#000"/>
<circle cx="1763.1" cy="1496.25" r="3.4" fill="#000"/>
<circle cx="1774.64" cy="1493.02" r="3.4" fill="#000"/>
<circle cx="1790.79" cy="1518.86" r="3.4" fill="#000"/>
<circle cx="1815.02" cy="1491.17" r="3.4" fill="#000"/>
<circle cx="1820.79" cy="1423.09" r="3.4" fill="#000"/>
<circle cx="1906.19" cy="1492.79" r="3.4" fill="#000"/>
<g clip-path="url(#c8)">
<rect x="1269.7" y="501.1" width="209.5" height="61.3" fill="#585858"/>
<rect x="1272" y="500" width="62" height="70" rx="4" fill="#4a4a4a" filter="url(#b4)"/>
<rect x="1346" y="500" width="52" height="70" rx="4" fill="#4e4e4e" filter="url(#b4)"/>
<rect x="1411" y="500" width="62" height="70" rx="4" fill="#4c4c4c" filter="url(#b4)"/>
<rect x="1335" y="498" width="11" height="70" rx="4" fill="#6c6c6c" filter="url(#b4)"/>
<rect x="1400" y="498" width="12" height="70" rx="4" fill="#6a6a6a" filter="url(#b4)"/>
<ellipse cx="1303" cy="531" rx="27" ry="9" fill="#2c2c2c" filter="url(#b4)"/>
<ellipse cx="1372" cy="533" rx="22" ry="9" fill="#383838" filter="url(#b4)"/>
<ellipse cx="1441" cy="533" rx="24" ry="9" fill="#333" filter="url(#b4)"/>
<rect x="1269.7" y="501.1" width="209.5" height="61.3" filter="url(#nz)" opacity="0.12"/>
</g>
<rect x="1269.7" y="501.1" width="209.5" height="61.3" fill="none" stroke="#2a2a2a" stroke-width="1.3" rx="1"/>
<g clip-path="url(#c9)">
<rect x="1269.7" y="573.5" width="209.5" height="66.1" fill="#DADADA"/>
<rect x="1335" y="572" width="11" height="70" rx="4" fill="#E4E4E4" filter="url(#b4)"/>
<rect x="1400" y="572" width="12" height="70" rx="4" fill="#E4E4E4" filter="url(#b4)"/>
<rect x="1280" y="608.5" width="49" height="8" rx="4" fill="#8a8a8a" filter="url(#b25)"/>
<rect x="1350" y="608.5" width="45" height="8" rx="4" fill="#a8a8a8" filter="url(#b25)"/>
<rect x="1416" y="608.5" width="49" height="8" rx="4" fill="#929292" filter="url(#b25)"/>
<rect x="1279" y="600.5" width="51" height="8" rx="4" fill="#4a4a4a" filter="url(#b2)"/>
<rect x="1349" y="601" width="46" height="7.5" rx="3.75" fill="#7c7c7c" filter="url(#b2)"/>
<rect x="1415" y="600.5" width="51" height="8" rx="4" fill="#4e4e4e" filter="url(#b2)"/>
<ellipse cx="1288" cy="627.5" rx="1.2" ry="1.2" fill="#777" filter="url(#b15)"/>
<ellipse cx="1299.5" cy="626" rx="1.5" ry="1.5" fill="#555" filter="url(#b15)"/>
<rect x="1269.7" y="573.5" width="209.5" height="66.1" filter="url(#nz)" opacity="0.12"/>
</g>
<rect x="1269.7" y="573.5" width="209.5" height="66.1" fill="none" stroke="#2a2a2a" stroke-width="1.3" rx="1"/>
<g clip-path="url(#c10)">
<rect x="1269.7" y="650.8" width="209.5" height="60.7" fill="#DCDCDC"/>
<rect x="1276" y="678" width="57" height="10.5" rx="4" fill="#0e0e0e" filter="url(#b2)"/>
<rect x="1342" y="678.5" width="53" height="9.5" rx="4" fill="#262626" filter="url(#b2)"/>
<rect x="1404" y="678" width="55" height="10.5" rx="4" fill="#121212" filter="url(#b2)"/>
<ellipse cx="1368" cy="683" rx="12" ry="3" fill="#3a3a3a" filter="url(#b15)"/>
<rect x="1269.7" y="650.8" width="209.5" height="60.7" filter="url(#nz)" opacity="0.12"/>
</g>
<rect x="1269.7" y="650.8" width="209.5" height="60.7" fill="none" stroke="#2a2a2a" stroke-width="1.3" rx="1"/>
<g clip-path="url(#c11)">
<rect x="1641.5" y="502.8" width="201.6" height="58.3" fill="#C6C6C6"/>
<rect x="1640" y="500" width="30" height="70" rx="4" fill="#D2D2D2" filter="url(#b4)"/>
<rect x="1800" y="500" width="46" height="70" rx="4" fill="#B4B4B4" filter="url(#b4)"/>
<ellipse cx="1681" cy="534" rx="24" ry="6.5" fill="#6e6e6e" filter="url(#b25)"/>
<ellipse cx="1744" cy="529" rx="23" ry="5" fill="#888888" filter="url(#b25)"/>
<ellipse cx="1805" cy="535.5" rx="24" ry="7" fill="#434343" filter="url(#b25)"/>
<rect x="1641.5" y="502.8" width="201.6" height="58.3" filter="url(#nz)" opacity="0.18"/>
</g>
<rect x="1641.5" y="502.8" width="201.6" height="58.3" fill="none" stroke="#000" stroke-width="2.2" rx="1"/>
<g clip-path="url(#c12)">
<rect x="1641.5" y="572.6" width="201.6" height="65.1" fill="#FAFAFA"/>
<rect x="1658" y="606" width="40" height="9" rx="4" fill="#d8d8d8" filter="url(#b4)"/>
<rect x="1785" y="610" width="38" height="10" rx="4" fill="#bcbcbc" filter="url(#b4)"/>
<rect x="1656" y="596.5" width="44" height="7" rx="3.5" fill="#5e5e5e" filter="url(#b2)"/>
<rect x="1721" y="597.5" width="44" height="6" rx="3" fill="#d6d6d6" filter="url(#b2)"/>
<rect x="1783" y="600.5" width="42" height="7.5" rx="3.75" fill="#454545" filter="url(#b2)"/>
<rect x="1641.5" y="572.6" width="201.6" height="65.1" filter="url(#nz)" opacity="0.03"/>
</g>
<rect x="1641.5" y="572.6" width="201.6" height="65.1" fill="none" stroke="#000" stroke-width="2.2" rx="1"/>
<g clip-path="url(#c13)">
<rect x="1641.5" y="646.8" width="201.6" height="62.7" fill="#EFEFEF"/>
<path d="M1655,680 C1656,672 1668,673 1685,679 L1705,684 C1707,690 1704,693 1695,693 L1662,693 C1655,692 1654,686 1655,680 Z" fill="#000" filter="url(#b15)"/>
<rect x="1719.5" y="681.5" width="52" height="11.5" rx="4" fill="#050505" filter="url(#b15)"/>
<rect x="1781.5" y="681" width="48" height="13" rx="4" fill="#080808" filter="url(#b15)"/>
<rect x="1641.5" y="646.8" width="201.6" height="62.7" filter="url(#nz)" opacity="0.1"/>
</g>
<rect x="1641.5" y="646.8" width="201.6" height="62.7" fill="none" stroke="#000" stroke-width="2.2" rx="1"/>
<text class="sb" x="1377.9" y="479.9" font-size="22.68" text-anchor="middle">SNB19</text>
<text class="sb" x="1731.3" y="479" font-size="22.08" text-anchor="middle">LN229</text>
<text class="sb" x="1225.7" y="537.4" font-size="20.99" text-anchor="middle">HSL</text>
<text class="sb" x="1224.2" y="613.4" font-size="20.9" text-anchor="middle">p-HSL</text>
<text class="sb" x="1226.4" y="690.6" font-size="21.81" text-anchor="middle">β-actin</text>
<text class="sb" x="1585.2" y="535" font-size="21.24" text-anchor="middle">HSL</text>
<text class="sb" x="1583" y="608.4" font-size="21.18" text-anchor="middle">p-HSL</text>
<text class="sb" x="1584.7" y="676" font-size="21.75" text-anchor="middle">β-actin</text>
<text class="sb" x="1303.78" y="752.28" font-size="22.2" text-anchor="middle" transform="rotate(-45 1303.78 752.28)">NC</text>
<text class="sb" x="1316.18" y="804.78" font-size="22.2" text-anchor="middle" transform="rotate(-45 1316.18 804.78)">si-hsa_circ_0021205</text>
<text class="sb" x="1386.58" y="806.68" font-size="22.2" text-anchor="middle" transform="rotate(-45 1386.58 806.68)">si-hsa_circ_0021205</text>
<text class="sb" x="1396.88" y="832.88" font-size="22.2" text-anchor="middle" transform="rotate(-45 1396.88 832.88)">+anti-miR-195-5p</text>
<text class="sb" x="1675.68" y="746.48" font-size="22.2" text-anchor="middle" transform="rotate(-45 1675.68 746.48)">NC</text>
<text class="sb" x="1686.48" y="798.18" font-size="22.2" text-anchor="middle" transform="rotate(-45 1686.48 798.18)">si-hsa_circ_0021205</text>
<text class="sb" x="1757.18" y="800.68" font-size="22.2" text-anchor="middle" transform="rotate(-45 1757.18 800.68)">si-hsa_circ_0021205</text>
<text class="sb" x="1768.18" y="827.38" font-size="22.2" text-anchor="middle" transform="rotate(-45 1768.18 827.38)">+anti-miR-195-5p</text>
</svg>
</body></html>
